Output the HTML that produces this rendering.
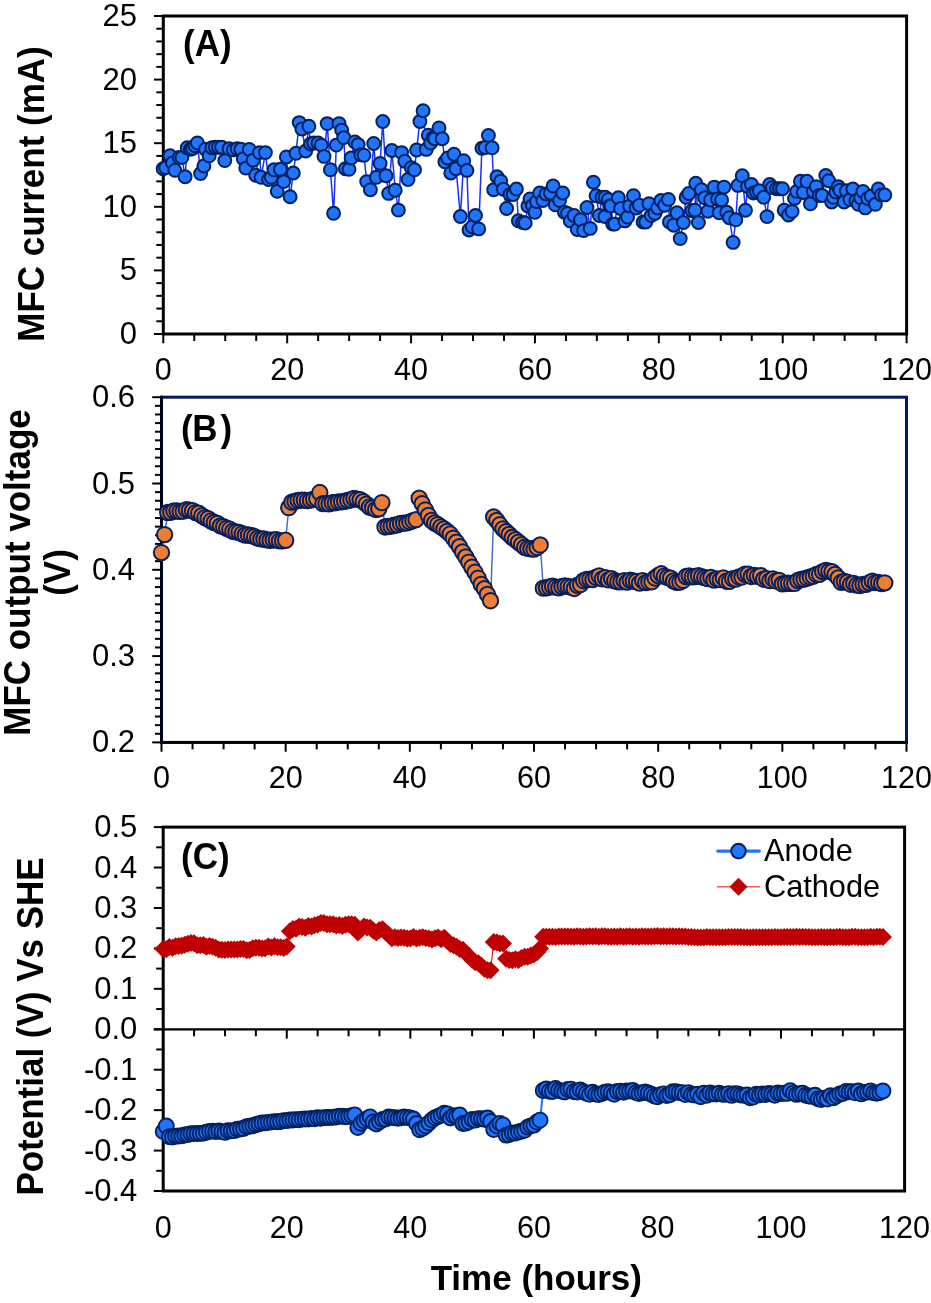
<!DOCTYPE html><html><head><meta charset="utf-8"><style>html,body{margin:0;padding:0;background:#fff;width:931px;height:1303px;overflow:hidden}svg{display:block;will-change:transform}</style></head><body>
<svg width="931" height="1303" viewBox="0 0 931 1303">
<rect width="931" height="1303" fill="#fff"/>
<g stroke="#000" stroke-width="2"><line x1="156.3" y1="321.28" x2="163.3" y2="321.28"/><line x1="156.3" y1="308.56" x2="163.3" y2="308.56"/><line x1="156.3" y1="295.84" x2="163.3" y2="295.84"/><line x1="156.3" y1="283.12" x2="163.3" y2="283.12"/><line x1="156.3" y1="257.68" x2="163.3" y2="257.68"/><line x1="156.3" y1="244.96" x2="163.3" y2="244.96"/><line x1="156.3" y1="232.24" x2="163.3" y2="232.24"/><line x1="156.3" y1="219.52" x2="163.3" y2="219.52"/><line x1="156.3" y1="194.08" x2="163.3" y2="194.08"/><line x1="156.3" y1="181.36" x2="163.3" y2="181.36"/><line x1="156.3" y1="168.64" x2="163.3" y2="168.64"/><line x1="156.3" y1="155.92" x2="163.3" y2="155.92"/><line x1="156.3" y1="130.48" x2="163.3" y2="130.48"/><line x1="156.3" y1="117.76" x2="163.3" y2="117.76"/><line x1="156.3" y1="105.04" x2="163.3" y2="105.04"/><line x1="156.3" y1="92.32" x2="163.3" y2="92.32"/><line x1="156.3" y1="66.88" x2="163.3" y2="66.88"/><line x1="156.3" y1="54.16" x2="163.3" y2="54.16"/><line x1="156.3" y1="41.44" x2="163.3" y2="41.44"/><line x1="156.3" y1="28.72" x2="163.3" y2="28.72"/><line x1="154" y1="334" x2="163.3" y2="334"/><line x1="154" y1="270.4" x2="163.3" y2="270.4"/><line x1="154" y1="206.8" x2="163.3" y2="206.8"/><line x1="154" y1="143.2" x2="163.3" y2="143.2"/><line x1="154" y1="79.6" x2="163.3" y2="79.6"/><line x1="154" y1="16" x2="163.3" y2="16"/></g>
<g font-family="Liberation Sans, sans-serif" font-size="31" text-anchor="end" fill="#000"><text x="137" y="344">0</text><text x="137" y="280.4">5</text><text x="137" y="216.8">10</text><text x="137" y="153.2">15</text><text x="137" y="89.6">20</text><text x="137" y="26">25</text></g>
<g stroke="#000" stroke-width="2"><line x1="163.3" y1="334" x2="163.3" y2="343.3"/><line x1="194.27" y1="334" x2="194.27" y2="341"/><line x1="225.24" y1="334" x2="225.24" y2="341"/><line x1="256.21" y1="334" x2="256.21" y2="341"/><line x1="287.18" y1="334" x2="287.18" y2="343.3"/><line x1="318.15" y1="334" x2="318.15" y2="341"/><line x1="349.12" y1="334" x2="349.12" y2="341"/><line x1="380.1" y1="334" x2="380.1" y2="341"/><line x1="411.07" y1="334" x2="411.07" y2="343.3"/><line x1="442.04" y1="334" x2="442.04" y2="341"/><line x1="473.01" y1="334" x2="473.01" y2="341"/><line x1="503.98" y1="334" x2="503.98" y2="341"/><line x1="534.95" y1="334" x2="534.95" y2="343.3"/><line x1="565.92" y1="334" x2="565.92" y2="341"/><line x1="596.89" y1="334" x2="596.89" y2="341"/><line x1="627.86" y1="334" x2="627.86" y2="341"/><line x1="658.83" y1="334" x2="658.83" y2="343.3"/><line x1="689.8" y1="334" x2="689.8" y2="341"/><line x1="720.78" y1="334" x2="720.78" y2="341"/><line x1="751.75" y1="334" x2="751.75" y2="341"/><line x1="782.72" y1="334" x2="782.72" y2="343.3"/><line x1="813.69" y1="334" x2="813.69" y2="341"/><line x1="844.66" y1="334" x2="844.66" y2="341"/><line x1="875.63" y1="334" x2="875.63" y2="341"/><line x1="906.6" y1="334" x2="906.6" y2="343.3"/></g>
<g font-family="Liberation Sans, sans-serif" font-size="30.6" text-anchor="middle" fill="#000"><text x="163.3" y="380.4">0</text><text x="287.18" y="380.4">20</text><text x="411.07" y="380.4">40</text><text x="534.95" y="380.4">60</text><text x="658.83" y="380.4">80</text><text x="782.72" y="380.4">100</text><text x="906.6" y="380.4">120</text></g>
<rect x="163.3" y="16" width="743.3" height="318" fill="none" stroke="#000" stroke-width="3"/>
<polyline fill="none" stroke="#1530ff" stroke-width="1.5" points="163.1,168.7 165.7,167.6 170,155.8 172.45,163.05 174.9,170.3 179.2,157.4 181.9,157.4 185.1,176.7 187.2,147.7 190.4,149.3 192.5,148.5 194.95,145.7 197.4,142.9 200.6,173.5 203.9,166 205.5,149.3 209.2,155.8 211.9,147.7 215.2,147.2 218.4,147.2 221.6,147.2 224.8,160.6 229.1,148.8 233.4,149.9 237.2,148.8 240.9,149.3 243.35,158.7 245.8,168.1 249.3,149.4 253.1,160.2 255.7,175.2 259.5,152.6 261.1,177.3 265.4,152.6 268.6,179.5 271.3,177.3 274,169.8 277.2,191.3 280.4,169.3 283.7,181.6 286.4,156.9 290.1,196.7 293.3,173 296,153.2 299.2,122.6 301.9,129 305.7,151 308.9,126.3 310.5,144 313.7,143 318,143 321.3,145.1 324,156.4 327.2,123.6 330.4,169.8 333.6,213.3 336.3,145.1 339,123.6 341.7,130.1 343.8,137.6 345.4,168.7 349,169.3 351.1,158 354.9,141.9 358.1,144.6 360.8,154.8 364,155.3 366.7,181.6 370.4,189.7 373.7,143.5 376.4,177.3 380.1,163.4 382.8,121.5 386,175.7 388.7,193.4 391.9,150.5 395.2,190.2 398.4,210.1 401.6,152.6 404.8,161.2 408,179.5 411.3,167.7 414.5,169.8 416.6,150 419.9,121.5 423.1,110.7 426.3,149.4 428.3,135.2 430.6,143 433.3,137.6 434.7,138.7 439,127.9 442.2,138.7 444.9,161.8 447.6,158 450.8,173 454,154.2 456.1,168.7 460.4,216.5 463.7,160.7 466.9,170.4 469,230 472.3,226.7 475.5,215.5 478.7,228.9 481.9,148.3 485.2,147.5 488.4,135.4 492.1,147.8 493.7,189.7 497,176.8 500.7,181.1 503.4,189.2 506.6,208.5 509.9,194.5 513.1,194.5 516.4,189 518.4,220.8 522.7,222.5 525.2,223 527.9,205.9 530,198.9 532.45,205.6 534.9,212.3 536.5,201.6 539.7,193 542.9,200.5 546.1,194 550.4,193 553.1,186 555.3,204.8 559.6,200.5 562.8,193 564.4,212.3 567.6,213.4 570.3,220.9 574.1,215.5 577.3,229.5 580.5,219.8 583.7,230.6 587,207.5 590.2,228.4 593.4,182.2 596.1,195.7 599.3,215.5 602,197.3 605,216.6 605.2,197.3 608.4,199.4 609.8,205.9 611.1,205.9 612.7,224.1 614.7,224.1 618.4,197.8 620.6,208.5 624.9,220.9 627.6,217.1 629.7,205.9 633.5,195.7 636.1,208 639.4,205.3 643.1,222 645.8,222 649,203.7 651.2,215.5 654.9,213.4 657.6,208 660.9,200.5 664.6,205.3 668.4,199.4 669.4,222 673.7,225.2 677,212.8 680.2,238.6 683.4,222.5 686.1,197.3 688.8,193.5 692,210.7 695,210.2 695.8,183.3 698.4,222.5 701.4,189.7 704.7,197.8 707.9,211.2 710.6,200 714.3,187.1 717.6,198.9 719.2,212.8 721.6,199.95 724,187.1 726.7,212.3 729.4,217.7 733.1,242.4 735.8,219.8 738,185.4 742.3,175.8 745.5,210.2 747.6,186.5 751.4,184.4 753.5,193 756.45,191.9 759.4,190.8 763.7,197.3 767,216.6 769.7,184.4 772.3,187.6 776.6,188.7 779.55,188.7 782.5,188.7 784.2,210.2 788.5,215 792.1,211.4 794.5,198.4 796.8,191.4 800.4,181.3 803.3,192.5 806.9,181.3 810.4,203.8 813.4,191.4 816.3,186.6 819.3,195.5 822.2,195.5 825.8,175.4 828.7,180.7 831.7,202 833.4,197.3 835.8,191.95 838.2,186.6 839.9,190.2 844.1,202 846.4,190.8 850,199.6 852.9,189 855.9,200.8 858.3,204.3 860.65,197.85 863,191.4 865.3,207.9 867.7,198.4 871.2,196.1 875.4,204.3 878.3,189 881.3,194.9 884.8,194.9"/>
<g fill="#1f75fe" stroke="#04215f" stroke-width="2"><circle cx="163.1" cy="168.7" r="6.45"/><circle cx="165.7" cy="167.6" r="6.45"/><circle cx="170" cy="155.8" r="6.45"/><circle cx="172.45" cy="163.05" r="6.45"/><circle cx="174.9" cy="170.3" r="6.45"/><circle cx="179.2" cy="157.4" r="6.45"/><circle cx="181.9" cy="157.4" r="6.45"/><circle cx="185.1" cy="176.7" r="6.45"/><circle cx="187.2" cy="147.7" r="6.45"/><circle cx="190.4" cy="149.3" r="6.45"/><circle cx="192.5" cy="148.5" r="6.45"/><circle cx="194.95" cy="145.7" r="6.45"/><circle cx="197.4" cy="142.9" r="6.45"/><circle cx="200.6" cy="173.5" r="6.45"/><circle cx="203.9" cy="166" r="6.45"/><circle cx="205.5" cy="149.3" r="6.45"/><circle cx="209.2" cy="155.8" r="6.45"/><circle cx="211.9" cy="147.7" r="6.45"/><circle cx="215.2" cy="147.2" r="6.45"/><circle cx="218.4" cy="147.2" r="6.45"/><circle cx="221.6" cy="147.2" r="6.45"/><circle cx="224.8" cy="160.6" r="6.45"/><circle cx="229.1" cy="148.8" r="6.45"/><circle cx="233.4" cy="149.9" r="6.45"/><circle cx="237.2" cy="148.8" r="6.45"/><circle cx="240.9" cy="149.3" r="6.45"/><circle cx="243.35" cy="158.7" r="6.45"/><circle cx="245.8" cy="168.1" r="6.45"/><circle cx="249.3" cy="149.4" r="6.45"/><circle cx="253.1" cy="160.2" r="6.45"/><circle cx="255.7" cy="175.2" r="6.45"/><circle cx="259.5" cy="152.6" r="6.45"/><circle cx="261.1" cy="177.3" r="6.45"/><circle cx="265.4" cy="152.6" r="6.45"/><circle cx="268.6" cy="179.5" r="6.45"/><circle cx="271.3" cy="177.3" r="6.45"/><circle cx="274" cy="169.8" r="6.45"/><circle cx="277.2" cy="191.3" r="6.45"/><circle cx="280.4" cy="169.3" r="6.45"/><circle cx="283.7" cy="181.6" r="6.45"/><circle cx="286.4" cy="156.9" r="6.45"/><circle cx="290.1" cy="196.7" r="6.45"/><circle cx="293.3" cy="173" r="6.45"/><circle cx="296" cy="153.2" r="6.45"/><circle cx="299.2" cy="122.6" r="6.45"/><circle cx="301.9" cy="129" r="6.45"/><circle cx="305.7" cy="151" r="6.45"/><circle cx="308.9" cy="126.3" r="6.45"/><circle cx="310.5" cy="144" r="6.45"/><circle cx="313.7" cy="143" r="6.45"/><circle cx="318" cy="143" r="6.45"/><circle cx="321.3" cy="145.1" r="6.45"/><circle cx="324" cy="156.4" r="6.45"/><circle cx="327.2" cy="123.6" r="6.45"/><circle cx="330.4" cy="169.8" r="6.45"/><circle cx="333.6" cy="213.3" r="6.45"/><circle cx="336.3" cy="145.1" r="6.45"/><circle cx="339" cy="123.6" r="6.45"/><circle cx="341.7" cy="130.1" r="6.45"/><circle cx="343.8" cy="137.6" r="6.45"/><circle cx="345.4" cy="168.7" r="6.45"/><circle cx="349" cy="169.3" r="6.45"/><circle cx="351.1" cy="158" r="6.45"/><circle cx="354.9" cy="141.9" r="6.45"/><circle cx="358.1" cy="144.6" r="6.45"/><circle cx="360.8" cy="154.8" r="6.45"/><circle cx="364" cy="155.3" r="6.45"/><circle cx="366.7" cy="181.6" r="6.45"/><circle cx="370.4" cy="189.7" r="6.45"/><circle cx="373.7" cy="143.5" r="6.45"/><circle cx="376.4" cy="177.3" r="6.45"/><circle cx="380.1" cy="163.4" r="6.45"/><circle cx="382.8" cy="121.5" r="6.45"/><circle cx="386" cy="175.7" r="6.45"/><circle cx="388.7" cy="193.4" r="6.45"/><circle cx="391.9" cy="150.5" r="6.45"/><circle cx="395.2" cy="190.2" r="6.45"/><circle cx="398.4" cy="210.1" r="6.45"/><circle cx="401.6" cy="152.6" r="6.45"/><circle cx="404.8" cy="161.2" r="6.45"/><circle cx="408" cy="179.5" r="6.45"/><circle cx="411.3" cy="167.7" r="6.45"/><circle cx="414.5" cy="169.8" r="6.45"/><circle cx="416.6" cy="150" r="6.45"/><circle cx="419.9" cy="121.5" r="6.45"/><circle cx="423.1" cy="110.7" r="6.45"/><circle cx="426.3" cy="149.4" r="6.45"/><circle cx="428.3" cy="135.2" r="6.45"/><circle cx="430.6" cy="143" r="6.45"/><circle cx="433.3" cy="137.6" r="6.45"/><circle cx="434.7" cy="138.7" r="6.45"/><circle cx="439" cy="127.9" r="6.45"/><circle cx="442.2" cy="138.7" r="6.45"/><circle cx="444.9" cy="161.8" r="6.45"/><circle cx="447.6" cy="158" r="6.45"/><circle cx="450.8" cy="173" r="6.45"/><circle cx="454" cy="154.2" r="6.45"/><circle cx="456.1" cy="168.7" r="6.45"/><circle cx="460.4" cy="216.5" r="6.45"/><circle cx="463.7" cy="160.7" r="6.45"/><circle cx="466.9" cy="170.4" r="6.45"/><circle cx="469" cy="230" r="6.45"/><circle cx="472.3" cy="226.7" r="6.45"/><circle cx="475.5" cy="215.5" r="6.45"/><circle cx="478.7" cy="228.9" r="6.45"/><circle cx="481.9" cy="148.3" r="6.45"/><circle cx="485.2" cy="147.5" r="6.45"/><circle cx="488.4" cy="135.4" r="6.45"/><circle cx="492.1" cy="147.8" r="6.45"/><circle cx="493.7" cy="189.7" r="6.45"/><circle cx="497" cy="176.8" r="6.45"/><circle cx="500.7" cy="181.1" r="6.45"/><circle cx="503.4" cy="189.2" r="6.45"/><circle cx="506.6" cy="208.5" r="6.45"/><circle cx="509.9" cy="194.5" r="6.45"/><circle cx="513.1" cy="194.5" r="6.45"/><circle cx="516.4" cy="189" r="6.45"/><circle cx="518.4" cy="220.8" r="6.45"/><circle cx="522.7" cy="222.5" r="6.45"/><circle cx="525.2" cy="223" r="6.45"/><circle cx="527.9" cy="205.9" r="6.45"/><circle cx="530" cy="198.9" r="6.45"/><circle cx="532.45" cy="205.6" r="6.45"/><circle cx="534.9" cy="212.3" r="6.45"/><circle cx="536.5" cy="201.6" r="6.45"/><circle cx="539.7" cy="193" r="6.45"/><circle cx="542.9" cy="200.5" r="6.45"/><circle cx="546.1" cy="194" r="6.45"/><circle cx="550.4" cy="193" r="6.45"/><circle cx="553.1" cy="186" r="6.45"/><circle cx="555.3" cy="204.8" r="6.45"/><circle cx="559.6" cy="200.5" r="6.45"/><circle cx="562.8" cy="193" r="6.45"/><circle cx="564.4" cy="212.3" r="6.45"/><circle cx="567.6" cy="213.4" r="6.45"/><circle cx="570.3" cy="220.9" r="6.45"/><circle cx="574.1" cy="215.5" r="6.45"/><circle cx="577.3" cy="229.5" r="6.45"/><circle cx="580.5" cy="219.8" r="6.45"/><circle cx="583.7" cy="230.6" r="6.45"/><circle cx="587" cy="207.5" r="6.45"/><circle cx="590.2" cy="228.4" r="6.45"/><circle cx="593.4" cy="182.2" r="6.45"/><circle cx="596.1" cy="195.7" r="6.45"/><circle cx="599.3" cy="215.5" r="6.45"/><circle cx="602" cy="197.3" r="6.45"/><circle cx="605" cy="216.6" r="6.45"/><circle cx="605.2" cy="197.3" r="6.45"/><circle cx="608.4" cy="199.4" r="6.45"/><circle cx="609.8" cy="205.9" r="6.45"/><circle cx="611.1" cy="205.9" r="6.45"/><circle cx="612.7" cy="224.1" r="6.45"/><circle cx="614.7" cy="224.1" r="6.45"/><circle cx="618.4" cy="197.8" r="6.45"/><circle cx="620.6" cy="208.5" r="6.45"/><circle cx="624.9" cy="220.9" r="6.45"/><circle cx="627.6" cy="217.1" r="6.45"/><circle cx="629.7" cy="205.9" r="6.45"/><circle cx="633.5" cy="195.7" r="6.45"/><circle cx="636.1" cy="208" r="6.45"/><circle cx="639.4" cy="205.3" r="6.45"/><circle cx="643.1" cy="222" r="6.45"/><circle cx="645.8" cy="222" r="6.45"/><circle cx="649" cy="203.7" r="6.45"/><circle cx="651.2" cy="215.5" r="6.45"/><circle cx="654.9" cy="213.4" r="6.45"/><circle cx="657.6" cy="208" r="6.45"/><circle cx="660.9" cy="200.5" r="6.45"/><circle cx="664.6" cy="205.3" r="6.45"/><circle cx="668.4" cy="199.4" r="6.45"/><circle cx="669.4" cy="222" r="6.45"/><circle cx="673.7" cy="225.2" r="6.45"/><circle cx="677" cy="212.8" r="6.45"/><circle cx="680.2" cy="238.6" r="6.45"/><circle cx="683.4" cy="222.5" r="6.45"/><circle cx="686.1" cy="197.3" r="6.45"/><circle cx="688.8" cy="193.5" r="6.45"/><circle cx="692" cy="210.7" r="6.45"/><circle cx="695" cy="210.2" r="6.45"/><circle cx="695.8" cy="183.3" r="6.45"/><circle cx="698.4" cy="222.5" r="6.45"/><circle cx="701.4" cy="189.7" r="6.45"/><circle cx="704.7" cy="197.8" r="6.45"/><circle cx="707.9" cy="211.2" r="6.45"/><circle cx="710.6" cy="200" r="6.45"/><circle cx="714.3" cy="187.1" r="6.45"/><circle cx="717.6" cy="198.9" r="6.45"/><circle cx="719.2" cy="212.8" r="6.45"/><circle cx="721.6" cy="199.95" r="6.45"/><circle cx="724" cy="187.1" r="6.45"/><circle cx="726.7" cy="212.3" r="6.45"/><circle cx="729.4" cy="217.7" r="6.45"/><circle cx="733.1" cy="242.4" r="6.45"/><circle cx="735.8" cy="219.8" r="6.45"/><circle cx="738" cy="185.4" r="6.45"/><circle cx="742.3" cy="175.8" r="6.45"/><circle cx="745.5" cy="210.2" r="6.45"/><circle cx="747.6" cy="186.5" r="6.45"/><circle cx="751.4" cy="184.4" r="6.45"/><circle cx="753.5" cy="193" r="6.45"/><circle cx="756.45" cy="191.9" r="6.45"/><circle cx="759.4" cy="190.8" r="6.45"/><circle cx="763.7" cy="197.3" r="6.45"/><circle cx="767" cy="216.6" r="6.45"/><circle cx="769.7" cy="184.4" r="6.45"/><circle cx="772.3" cy="187.6" r="6.45"/><circle cx="776.6" cy="188.7" r="6.45"/><circle cx="779.55" cy="188.7" r="6.45"/><circle cx="782.5" cy="188.7" r="6.45"/><circle cx="784.2" cy="210.2" r="6.45"/><circle cx="788.5" cy="215" r="6.45"/><circle cx="792.1" cy="211.4" r="6.45"/><circle cx="794.5" cy="198.4" r="6.45"/><circle cx="796.8" cy="191.4" r="6.45"/><circle cx="800.4" cy="181.3" r="6.45"/><circle cx="803.3" cy="192.5" r="6.45"/><circle cx="806.9" cy="181.3" r="6.45"/><circle cx="810.4" cy="203.8" r="6.45"/><circle cx="813.4" cy="191.4" r="6.45"/><circle cx="816.3" cy="186.6" r="6.45"/><circle cx="819.3" cy="195.5" r="6.45"/><circle cx="822.2" cy="195.5" r="6.45"/><circle cx="825.8" cy="175.4" r="6.45"/><circle cx="828.7" cy="180.7" r="6.45"/><circle cx="831.7" cy="202" r="6.45"/><circle cx="833.4" cy="197.3" r="6.45"/><circle cx="835.8" cy="191.95" r="6.45"/><circle cx="838.2" cy="186.6" r="6.45"/><circle cx="839.9" cy="190.2" r="6.45"/><circle cx="844.1" cy="202" r="6.45"/><circle cx="846.4" cy="190.8" r="6.45"/><circle cx="850" cy="199.6" r="6.45"/><circle cx="852.9" cy="189" r="6.45"/><circle cx="855.9" cy="200.8" r="6.45"/><circle cx="858.3" cy="204.3" r="6.45"/><circle cx="860.65" cy="197.85" r="6.45"/><circle cx="863" cy="191.4" r="6.45"/><circle cx="865.3" cy="207.9" r="6.45"/><circle cx="867.7" cy="198.4" r="6.45"/><circle cx="871.2" cy="196.1" r="6.45"/><circle cx="875.4" cy="204.3" r="6.45"/><circle cx="878.3" cy="189" r="6.45"/><circle cx="881.3" cy="194.9" r="6.45"/><circle cx="884.8" cy="194.9" r="6.45"/></g>
<text transform="translate(183,55.7) scale(1,1.045)" font-family="Liberation Sans, sans-serif" font-size="35" font-weight="bold">(A)</text>
<g stroke="#000" stroke-width="2"><line x1="155" y1="733.77" x2="161.5" y2="733.77"/><line x1="155" y1="725.14" x2="161.5" y2="725.14"/><line x1="155" y1="716.51" x2="161.5" y2="716.51"/><line x1="155" y1="707.88" x2="161.5" y2="707.88"/><line x1="155" y1="699.25" x2="161.5" y2="699.25"/><line x1="155" y1="690.62" x2="161.5" y2="690.62"/><line x1="155" y1="681.99" x2="161.5" y2="681.99"/><line x1="155" y1="673.36" x2="161.5" y2="673.36"/><line x1="155" y1="664.73" x2="161.5" y2="664.73"/><line x1="155" y1="647.47" x2="161.5" y2="647.47"/><line x1="155" y1="638.84" x2="161.5" y2="638.84"/><line x1="155" y1="630.21" x2="161.5" y2="630.21"/><line x1="155" y1="621.58" x2="161.5" y2="621.58"/><line x1="155" y1="612.95" x2="161.5" y2="612.95"/><line x1="155" y1="604.32" x2="161.5" y2="604.32"/><line x1="155" y1="595.69" x2="161.5" y2="595.69"/><line x1="155" y1="587.06" x2="161.5" y2="587.06"/><line x1="155" y1="578.43" x2="161.5" y2="578.43"/><line x1="155" y1="561.17" x2="161.5" y2="561.17"/><line x1="155" y1="552.54" x2="161.5" y2="552.54"/><line x1="155" y1="543.91" x2="161.5" y2="543.91"/><line x1="155" y1="535.28" x2="161.5" y2="535.28"/><line x1="155" y1="526.65" x2="161.5" y2="526.65"/><line x1="155" y1="518.02" x2="161.5" y2="518.02"/><line x1="155" y1="509.39" x2="161.5" y2="509.39"/><line x1="155" y1="500.76" x2="161.5" y2="500.76"/><line x1="155" y1="492.13" x2="161.5" y2="492.13"/><line x1="155" y1="474.87" x2="161.5" y2="474.87"/><line x1="155" y1="466.24" x2="161.5" y2="466.24"/><line x1="155" y1="457.61" x2="161.5" y2="457.61"/><line x1="155" y1="448.98" x2="161.5" y2="448.98"/><line x1="155" y1="440.35" x2="161.5" y2="440.35"/><line x1="155" y1="431.72" x2="161.5" y2="431.72"/><line x1="155" y1="423.09" x2="161.5" y2="423.09"/><line x1="155" y1="414.46" x2="161.5" y2="414.46"/><line x1="155" y1="405.83" x2="161.5" y2="405.83"/><line x1="152.2" y1="742.4" x2="161.5" y2="742.4"/><line x1="152.2" y1="656.1" x2="161.5" y2="656.1"/><line x1="152.2" y1="569.8" x2="161.5" y2="569.8"/><line x1="152.2" y1="483.5" x2="161.5" y2="483.5"/><line x1="152.2" y1="397.2" x2="161.5" y2="397.2"/></g>
<g font-family="Liberation Sans, sans-serif" font-size="31" text-anchor="end" fill="#000"><text x="135" y="752.4">0.2</text><text x="135" y="666.1">0.3</text><text x="135" y="579.8">0.4</text><text x="135" y="493.5">0.5</text><text x="135" y="407.2">0.6</text></g>
<g stroke="#000" stroke-width="2"><line x1="161.5" y1="742.4" x2="161.5" y2="751.7"/><line x1="192.54" y1="742.4" x2="192.54" y2="749.4"/><line x1="223.58" y1="742.4" x2="223.58" y2="749.4"/><line x1="254.62" y1="742.4" x2="254.62" y2="749.4"/><line x1="285.67" y1="742.4" x2="285.67" y2="751.7"/><line x1="316.71" y1="742.4" x2="316.71" y2="749.4"/><line x1="347.75" y1="742.4" x2="347.75" y2="749.4"/><line x1="378.79" y1="742.4" x2="378.79" y2="749.4"/><line x1="409.83" y1="742.4" x2="409.83" y2="751.7"/><line x1="440.88" y1="742.4" x2="440.88" y2="749.4"/><line x1="471.92" y1="742.4" x2="471.92" y2="749.4"/><line x1="502.96" y1="742.4" x2="502.96" y2="749.4"/><line x1="534" y1="742.4" x2="534" y2="751.7"/><line x1="565.04" y1="742.4" x2="565.04" y2="749.4"/><line x1="596.08" y1="742.4" x2="596.08" y2="749.4"/><line x1="627.12" y1="742.4" x2="627.12" y2="749.4"/><line x1="658.17" y1="742.4" x2="658.17" y2="751.7"/><line x1="689.21" y1="742.4" x2="689.21" y2="749.4"/><line x1="720.25" y1="742.4" x2="720.25" y2="749.4"/><line x1="751.29" y1="742.4" x2="751.29" y2="749.4"/><line x1="782.33" y1="742.4" x2="782.33" y2="751.7"/><line x1="813.38" y1="742.4" x2="813.38" y2="749.4"/><line x1="844.42" y1="742.4" x2="844.42" y2="749.4"/><line x1="875.46" y1="742.4" x2="875.46" y2="749.4"/><line x1="906.5" y1="742.4" x2="906.5" y2="751.7"/></g>
<g font-family="Liberation Sans, sans-serif" font-size="30.6" text-anchor="middle" fill="#000"><text x="161.5" y="788.3">0</text><text x="285.67" y="788.3">20</text><text x="409.83" y="788.3">40</text><text x="534" y="788.3">60</text><text x="658.17" y="788.3">80</text><text x="782.33" y="788.3">100</text><text x="906.5" y="788.3">120</text></g>
<rect x="161.5" y="397.2" width="745" height="345.2" fill="none" stroke="#011a5e" stroke-width="3"/>
<line x1="161.5" y1="395.7" x2="161.5" y2="742.4" stroke="#000" stroke-width="2.4"/>
<line x1="160.5" y1="742.4" x2="908" y2="742.4" stroke="#000" stroke-width="2.6"/>
<polyline fill="none" stroke="#4472c4" stroke-width="1.5" points="161.5,552.6 164.6,534.6 167.71,512.48 170.81,512.2 173.92,510.96 177.02,511.05 180.12,511.39 183.23,511.16 186.33,509.69 189.44,510.16 192.54,510.62 195.65,512.58 198.75,513.32 201.85,515.63 204.96,517.68 208.06,518.76 211.17,521.02 214.27,522.52 217.38,523.33 220.48,525.87 223.58,526.69 226.69,528.25 229.79,529.32 232.9,531.25 236,531.88 239.1,532.33 242.21,533.81 245.31,535 248.42,535.04 251.52,535.67 254.62,536.7 257.73,538.22 260.83,538.92 263.94,539 267.04,539.91 270.15,540.26 273.25,539.87 276.35,539.73 279.46,540.85 282.56,540.85 285.67,540.28 288.77,507.66 291.88,502.14 294.98,501.43 298.08,500.44 301.19,500.15 304.29,500.09 307.4,500.58 310.5,500.14 313.6,499.31 316.71,498.63 319.81,492.57 322.92,503.62 326.02,503.6 329.12,503.77 332.23,502.7 335.33,502.72 338.44,501.91 341.54,501.83 344.65,501.24 347.75,500.5 350.85,499.77 353.96,498.5 357.06,499.12 360.17,499.76 363.27,501.71 366.38,504.1 369.48,507 372.58,507.89 375.69,509.47 378.79,508.76 381.9,502.58 385,526.93 388.1,526.48 391.21,526.17 394.31,525.27 397.42,524.76 400.52,523.47 403.62,523.11 406.73,522.9 409.83,521.88 412.94,520.71 416.04,519.66 419.15,498.15 422.25,503.71 425.35,509.85 428.46,515.52 431.56,520.5 434.67,523.01 437.77,524.6 440.88,526.95 443.98,528.91 447.08,531.47 450.19,534.07 453.29,538.09 456.4,542.15 459.5,546.74 462.6,552 465.71,556.94 468.81,562.1 471.92,567.31 475.02,572.29 478.12,578.11 481.23,584.47 484.33,588.66 487.44,594.43 490.54,600.72 493.65,517.01 496.75,520.5 499.85,524.81 502.96,528.85 506.06,531.71 509.17,534.45 512.27,537.38 515.38,539.71 518.48,542.25 521.58,544.69 524.69,547.29 527.79,548.39 530.9,548.81 534,549.08 537.1,547.46 540.21,544.95 543.31,588.14 546.42,587.8 549.52,587.04 552.62,586.14 555.73,587.09 558.83,587.81 561.94,586.53 565.04,585.92 568.15,586.44 571.25,587.08 574.35,588.44 577.46,585.3 580.56,584.45 583.67,580.68 586.77,579.46 589.88,579.32 592.98,579.47 596.08,577.27 599.19,575.96 602.29,578.83 605.4,577.73 608.5,579.9 611.6,578.66 614.71,580.8 617.81,581.7 620.92,581.74 624.02,580.71 627.12,582.04 630.23,580.31 633.33,581.02 636.44,581.51 639.54,583.13 642.65,580.68 645.75,582.58 648.85,581.89 651.96,581.72 655.06,577.93 658.17,575.55 661.27,573.81 664.38,576.25 667.48,577.45 670.58,578.15 673.69,581.02 676.79,582.23 679.9,582.12 683,580.39 686.1,576.55 689.21,575.85 692.31,576.73 695.42,576.51 698.52,575.79 701.62,576.68 704.73,577.71 707.83,578.48 710.94,577.48 714.04,580.02 717.15,578.93 720.25,579.58 723.35,577.91 726.46,581.21 729.56,581.28 732.67,578.58 735.77,579.12 738.88,576.92 741.98,576.97 745.08,574.27 748.19,574.15 751.29,576.43 754.4,575.34 757.5,576.32 760.6,575.61 763.71,579.19 766.81,578.61 769.92,580.6 773.02,578.92 776.12,580.95 779.23,580.35 782.33,583.87 785.44,583.44 788.54,583.2 791.65,583.33 794.75,583.41 797.85,580.53 800.96,579.48 804.06,579.04 807.17,577.99 810.27,577.02 813.38,576.16 816.48,574.45 819.58,574.33 822.69,571.59 825.79,570.37 828.9,571.23 832,571.66 835.1,574.38 838.21,577.95 841.31,582.32 844.42,581.55 847.52,582.22 850.62,584.18 853.73,583.42 856.83,585.07 859.94,585.44 863.04,584.54 866.15,584.33 869.25,582.78 872.35,581.16 875.46,582.56 878.56,582.48 881.67,583.49 884.77,582.83"/>
<g fill="#ed7d31" stroke="#06205f" stroke-width="2"><circle cx="161.5" cy="552.6" r="7.7"/><circle cx="164.6" cy="534.6" r="7.7"/><circle cx="167.71" cy="512.48" r="7.7"/><circle cx="170.81" cy="512.2" r="7.7"/><circle cx="173.92" cy="510.96" r="7.7"/><circle cx="177.02" cy="511.05" r="7.7"/><circle cx="180.12" cy="511.39" r="7.7"/><circle cx="183.23" cy="511.16" r="7.7"/><circle cx="186.33" cy="509.69" r="7.7"/><circle cx="189.44" cy="510.16" r="7.7"/><circle cx="192.54" cy="510.62" r="7.7"/><circle cx="195.65" cy="512.58" r="7.7"/><circle cx="198.75" cy="513.32" r="7.7"/><circle cx="201.85" cy="515.63" r="7.7"/><circle cx="204.96" cy="517.68" r="7.7"/><circle cx="208.06" cy="518.76" r="7.7"/><circle cx="211.17" cy="521.02" r="7.7"/><circle cx="214.27" cy="522.52" r="7.7"/><circle cx="217.38" cy="523.33" r="7.7"/><circle cx="220.48" cy="525.87" r="7.7"/><circle cx="223.58" cy="526.69" r="7.7"/><circle cx="226.69" cy="528.25" r="7.7"/><circle cx="229.79" cy="529.32" r="7.7"/><circle cx="232.9" cy="531.25" r="7.7"/><circle cx="236" cy="531.88" r="7.7"/><circle cx="239.1" cy="532.33" r="7.7"/><circle cx="242.21" cy="533.81" r="7.7"/><circle cx="245.31" cy="535" r="7.7"/><circle cx="248.42" cy="535.04" r="7.7"/><circle cx="251.52" cy="535.67" r="7.7"/><circle cx="254.62" cy="536.7" r="7.7"/><circle cx="257.73" cy="538.22" r="7.7"/><circle cx="260.83" cy="538.92" r="7.7"/><circle cx="263.94" cy="539" r="7.7"/><circle cx="267.04" cy="539.91" r="7.7"/><circle cx="270.15" cy="540.26" r="7.7"/><circle cx="273.25" cy="539.87" r="7.7"/><circle cx="276.35" cy="539.73" r="7.7"/><circle cx="279.46" cy="540.85" r="7.7"/><circle cx="282.56" cy="540.85" r="7.7"/><circle cx="285.67" cy="540.28" r="7.7"/><circle cx="288.77" cy="507.66" r="7.7"/><circle cx="291.88" cy="502.14" r="7.7"/><circle cx="294.98" cy="501.43" r="7.7"/><circle cx="298.08" cy="500.44" r="7.7"/><circle cx="301.19" cy="500.15" r="7.7"/><circle cx="304.29" cy="500.09" r="7.7"/><circle cx="307.4" cy="500.58" r="7.7"/><circle cx="310.5" cy="500.14" r="7.7"/><circle cx="313.6" cy="499.31" r="7.7"/><circle cx="316.71" cy="498.63" r="7.7"/><circle cx="319.81" cy="492.57" r="7.7"/><circle cx="322.92" cy="503.62" r="7.7"/><circle cx="326.02" cy="503.6" r="7.7"/><circle cx="329.12" cy="503.77" r="7.7"/><circle cx="332.23" cy="502.7" r="7.7"/><circle cx="335.33" cy="502.72" r="7.7"/><circle cx="338.44" cy="501.91" r="7.7"/><circle cx="341.54" cy="501.83" r="7.7"/><circle cx="344.65" cy="501.24" r="7.7"/><circle cx="347.75" cy="500.5" r="7.7"/><circle cx="350.85" cy="499.77" r="7.7"/><circle cx="353.96" cy="498.5" r="7.7"/><circle cx="357.06" cy="499.12" r="7.7"/><circle cx="360.17" cy="499.76" r="7.7"/><circle cx="363.27" cy="501.71" r="7.7"/><circle cx="366.38" cy="504.1" r="7.7"/><circle cx="369.48" cy="507" r="7.7"/><circle cx="372.58" cy="507.89" r="7.7"/><circle cx="375.69" cy="509.47" r="7.7"/><circle cx="378.79" cy="508.76" r="7.7"/><circle cx="381.9" cy="502.58" r="7.7"/><circle cx="385" cy="526.93" r="7.7"/><circle cx="388.1" cy="526.48" r="7.7"/><circle cx="391.21" cy="526.17" r="7.7"/><circle cx="394.31" cy="525.27" r="7.7"/><circle cx="397.42" cy="524.76" r="7.7"/><circle cx="400.52" cy="523.47" r="7.7"/><circle cx="403.62" cy="523.11" r="7.7"/><circle cx="406.73" cy="522.9" r="7.7"/><circle cx="409.83" cy="521.88" r="7.7"/><circle cx="412.94" cy="520.71" r="7.7"/><circle cx="416.04" cy="519.66" r="7.7"/><circle cx="419.15" cy="498.15" r="7.7"/><circle cx="422.25" cy="503.71" r="7.7"/><circle cx="425.35" cy="509.85" r="7.7"/><circle cx="428.46" cy="515.52" r="7.7"/><circle cx="431.56" cy="520.5" r="7.7"/><circle cx="434.67" cy="523.01" r="7.7"/><circle cx="437.77" cy="524.6" r="7.7"/><circle cx="440.88" cy="526.95" r="7.7"/><circle cx="443.98" cy="528.91" r="7.7"/><circle cx="447.08" cy="531.47" r="7.7"/><circle cx="450.19" cy="534.07" r="7.7"/><circle cx="453.29" cy="538.09" r="7.7"/><circle cx="456.4" cy="542.15" r="7.7"/><circle cx="459.5" cy="546.74" r="7.7"/><circle cx="462.6" cy="552" r="7.7"/><circle cx="465.71" cy="556.94" r="7.7"/><circle cx="468.81" cy="562.1" r="7.7"/><circle cx="471.92" cy="567.31" r="7.7"/><circle cx="475.02" cy="572.29" r="7.7"/><circle cx="478.12" cy="578.11" r="7.7"/><circle cx="481.23" cy="584.47" r="7.7"/><circle cx="484.33" cy="588.66" r="7.7"/><circle cx="487.44" cy="594.43" r="7.7"/><circle cx="490.54" cy="600.72" r="7.7"/><circle cx="493.65" cy="517.01" r="7.7"/><circle cx="496.75" cy="520.5" r="7.7"/><circle cx="499.85" cy="524.81" r="7.7"/><circle cx="502.96" cy="528.85" r="7.7"/><circle cx="506.06" cy="531.71" r="7.7"/><circle cx="509.17" cy="534.45" r="7.7"/><circle cx="512.27" cy="537.38" r="7.7"/><circle cx="515.38" cy="539.71" r="7.7"/><circle cx="518.48" cy="542.25" r="7.7"/><circle cx="521.58" cy="544.69" r="7.7"/><circle cx="524.69" cy="547.29" r="7.7"/><circle cx="527.79" cy="548.39" r="7.7"/><circle cx="530.9" cy="548.81" r="7.7"/><circle cx="534" cy="549.08" r="7.7"/><circle cx="537.1" cy="547.46" r="7.7"/><circle cx="540.21" cy="544.95" r="7.7"/><circle cx="543.31" cy="588.14" r="7.7"/><circle cx="546.42" cy="587.8" r="7.7"/><circle cx="549.52" cy="587.04" r="7.7"/><circle cx="552.62" cy="586.14" r="7.7"/><circle cx="555.73" cy="587.09" r="7.7"/><circle cx="558.83" cy="587.81" r="7.7"/><circle cx="561.94" cy="586.53" r="7.7"/><circle cx="565.04" cy="585.92" r="7.7"/><circle cx="568.15" cy="586.44" r="7.7"/><circle cx="571.25" cy="587.08" r="7.7"/><circle cx="574.35" cy="588.44" r="7.7"/><circle cx="577.46" cy="585.3" r="7.7"/><circle cx="580.56" cy="584.45" r="7.7"/><circle cx="583.67" cy="580.68" r="7.7"/><circle cx="586.77" cy="579.46" r="7.7"/><circle cx="589.88" cy="579.32" r="7.7"/><circle cx="592.98" cy="579.47" r="7.7"/><circle cx="596.08" cy="577.27" r="7.7"/><circle cx="599.19" cy="575.96" r="7.7"/><circle cx="602.29" cy="578.83" r="7.7"/><circle cx="605.4" cy="577.73" r="7.7"/><circle cx="608.5" cy="579.9" r="7.7"/><circle cx="611.6" cy="578.66" r="7.7"/><circle cx="614.71" cy="580.8" r="7.7"/><circle cx="617.81" cy="581.7" r="7.7"/><circle cx="620.92" cy="581.74" r="7.7"/><circle cx="624.02" cy="580.71" r="7.7"/><circle cx="627.12" cy="582.04" r="7.7"/><circle cx="630.23" cy="580.31" r="7.7"/><circle cx="633.33" cy="581.02" r="7.7"/><circle cx="636.44" cy="581.51" r="7.7"/><circle cx="639.54" cy="583.13" r="7.7"/><circle cx="642.65" cy="580.68" r="7.7"/><circle cx="645.75" cy="582.58" r="7.7"/><circle cx="648.85" cy="581.89" r="7.7"/><circle cx="651.96" cy="581.72" r="7.7"/><circle cx="655.06" cy="577.93" r="7.7"/><circle cx="658.17" cy="575.55" r="7.7"/><circle cx="661.27" cy="573.81" r="7.7"/><circle cx="664.38" cy="576.25" r="7.7"/><circle cx="667.48" cy="577.45" r="7.7"/><circle cx="670.58" cy="578.15" r="7.7"/><circle cx="673.69" cy="581.02" r="7.7"/><circle cx="676.79" cy="582.23" r="7.7"/><circle cx="679.9" cy="582.12" r="7.7"/><circle cx="683" cy="580.39" r="7.7"/><circle cx="686.1" cy="576.55" r="7.7"/><circle cx="689.21" cy="575.85" r="7.7"/><circle cx="692.31" cy="576.73" r="7.7"/><circle cx="695.42" cy="576.51" r="7.7"/><circle cx="698.52" cy="575.79" r="7.7"/><circle cx="701.62" cy="576.68" r="7.7"/><circle cx="704.73" cy="577.71" r="7.7"/><circle cx="707.83" cy="578.48" r="7.7"/><circle cx="710.94" cy="577.48" r="7.7"/><circle cx="714.04" cy="580.02" r="7.7"/><circle cx="717.15" cy="578.93" r="7.7"/><circle cx="720.25" cy="579.58" r="7.7"/><circle cx="723.35" cy="577.91" r="7.7"/><circle cx="726.46" cy="581.21" r="7.7"/><circle cx="729.56" cy="581.28" r="7.7"/><circle cx="732.67" cy="578.58" r="7.7"/><circle cx="735.77" cy="579.12" r="7.7"/><circle cx="738.88" cy="576.92" r="7.7"/><circle cx="741.98" cy="576.97" r="7.7"/><circle cx="745.08" cy="574.27" r="7.7"/><circle cx="748.19" cy="574.15" r="7.7"/><circle cx="751.29" cy="576.43" r="7.7"/><circle cx="754.4" cy="575.34" r="7.7"/><circle cx="757.5" cy="576.32" r="7.7"/><circle cx="760.6" cy="575.61" r="7.7"/><circle cx="763.71" cy="579.19" r="7.7"/><circle cx="766.81" cy="578.61" r="7.7"/><circle cx="769.92" cy="580.6" r="7.7"/><circle cx="773.02" cy="578.92" r="7.7"/><circle cx="776.12" cy="580.95" r="7.7"/><circle cx="779.23" cy="580.35" r="7.7"/><circle cx="782.33" cy="583.87" r="7.7"/><circle cx="785.44" cy="583.44" r="7.7"/><circle cx="788.54" cy="583.2" r="7.7"/><circle cx="791.65" cy="583.33" r="7.7"/><circle cx="794.75" cy="583.41" r="7.7"/><circle cx="797.85" cy="580.53" r="7.7"/><circle cx="800.96" cy="579.48" r="7.7"/><circle cx="804.06" cy="579.04" r="7.7"/><circle cx="807.17" cy="577.99" r="7.7"/><circle cx="810.27" cy="577.02" r="7.7"/><circle cx="813.38" cy="576.16" r="7.7"/><circle cx="816.48" cy="574.45" r="7.7"/><circle cx="819.58" cy="574.33" r="7.7"/><circle cx="822.69" cy="571.59" r="7.7"/><circle cx="825.79" cy="570.37" r="7.7"/><circle cx="828.9" cy="571.23" r="7.7"/><circle cx="832" cy="571.66" r="7.7"/><circle cx="835.1" cy="574.38" r="7.7"/><circle cx="838.21" cy="577.95" r="7.7"/><circle cx="841.31" cy="582.32" r="7.7"/><circle cx="844.42" cy="581.55" r="7.7"/><circle cx="847.52" cy="582.22" r="7.7"/><circle cx="850.62" cy="584.18" r="7.7"/><circle cx="853.73" cy="583.42" r="7.7"/><circle cx="856.83" cy="585.07" r="7.7"/><circle cx="859.94" cy="585.44" r="7.7"/><circle cx="863.04" cy="584.54" r="7.7"/><circle cx="866.15" cy="584.33" r="7.7"/><circle cx="869.25" cy="582.78" r="7.7"/><circle cx="872.35" cy="581.16" r="7.7"/><circle cx="875.46" cy="582.56" r="7.7"/><circle cx="878.56" cy="582.48" r="7.7"/><circle cx="881.67" cy="583.49" r="7.7"/><circle cx="884.77" cy="582.83" r="7.7"/></g>
<text transform="translate(181,440.7) scale(1,1.045)" font-family="Liberation Sans, sans-serif" font-size="35" font-weight="bold">(<tspan dx="-0.4">B</tspan><tspan dx="3">)</tspan></text>
<g stroke="#000" stroke-width="2"><line x1="156.2" y1="1170.78" x2="163.2" y2="1170.78"/><line x1="156.2" y1="1130.35" x2="163.2" y2="1130.35"/><line x1="156.2" y1="1089.92" x2="163.2" y2="1089.92"/><line x1="156.2" y1="1049.48" x2="163.2" y2="1049.48"/><line x1="156.2" y1="1009.05" x2="163.2" y2="1009.05"/><line x1="156.2" y1="968.62" x2="163.2" y2="968.62"/><line x1="156.2" y1="928.18" x2="163.2" y2="928.18"/><line x1="156.2" y1="887.75" x2="163.2" y2="887.75"/><line x1="156.2" y1="847.32" x2="163.2" y2="847.32"/><line x1="153.8" y1="1191" x2="163.2" y2="1191"/><line x1="153.8" y1="1150.57" x2="163.2" y2="1150.57"/><line x1="153.8" y1="1110.13" x2="163.2" y2="1110.13"/><line x1="153.8" y1="1069.7" x2="163.2" y2="1069.7"/><line x1="153.8" y1="1029.27" x2="163.2" y2="1029.27"/><line x1="153.8" y1="988.83" x2="163.2" y2="988.83"/><line x1="153.8" y1="948.4" x2="163.2" y2="948.4"/><line x1="153.8" y1="907.97" x2="163.2" y2="907.97"/><line x1="153.8" y1="867.53" x2="163.2" y2="867.53"/><line x1="153.8" y1="827.1" x2="163.2" y2="827.1"/></g>
<g font-family="Liberation Sans, sans-serif" font-size="31" text-anchor="end" fill="#000"><text x="137.3" y="1201">-0.4</text><text x="137.3" y="1160.57">-0.3</text><text x="137.3" y="1120.13">-0.2</text><text x="137.3" y="1079.7">-0.1</text><text x="137.3" y="1039.27">0.0</text><text x="137.3" y="998.83">0.1</text><text x="137.3" y="958.4">0.2</text><text x="137.3" y="917.97">0.3</text><text x="137.3" y="877.53">0.4</text><text x="137.3" y="837.1">0.5</text></g>
<rect x="163.2" y="827.1" width="741.4" height="363.9" fill="none" stroke="#000" stroke-width="3"/>
<line x1="153.8" y1="1029.3" x2="904.6" y2="1029.3" stroke="#000" stroke-width="2.2"/>
<g stroke="#000" stroke-width="2"><line x1="194.09" y1="1029.3" x2="194.09" y2="1036.3"/><line x1="224.98" y1="1029.3" x2="224.98" y2="1036.3"/><line x1="255.88" y1="1029.3" x2="255.88" y2="1036.3"/><line x1="286.77" y1="1029.3" x2="286.77" y2="1038.6"/><line x1="317.66" y1="1029.3" x2="317.66" y2="1036.3"/><line x1="348.55" y1="1029.3" x2="348.55" y2="1036.3"/><line x1="379.44" y1="1029.3" x2="379.44" y2="1036.3"/><line x1="410.33" y1="1029.3" x2="410.33" y2="1038.6"/><line x1="441.23" y1="1029.3" x2="441.23" y2="1036.3"/><line x1="472.12" y1="1029.3" x2="472.12" y2="1036.3"/><line x1="503.01" y1="1029.3" x2="503.01" y2="1036.3"/><line x1="533.9" y1="1029.3" x2="533.9" y2="1038.6"/><line x1="564.79" y1="1029.3" x2="564.79" y2="1036.3"/><line x1="595.68" y1="1029.3" x2="595.68" y2="1036.3"/><line x1="626.58" y1="1029.3" x2="626.58" y2="1036.3"/><line x1="657.47" y1="1029.3" x2="657.47" y2="1038.6"/><line x1="688.36" y1="1029.3" x2="688.36" y2="1036.3"/><line x1="719.25" y1="1029.3" x2="719.25" y2="1036.3"/><line x1="750.14" y1="1029.3" x2="750.14" y2="1036.3"/><line x1="781.03" y1="1029.3" x2="781.03" y2="1038.6"/><line x1="811.93" y1="1029.3" x2="811.93" y2="1036.3"/><line x1="842.82" y1="1029.3" x2="842.82" y2="1036.3"/><line x1="873.71" y1="1029.3" x2="873.71" y2="1036.3"/></g>
<g font-family="Liberation Sans, sans-serif" font-size="30.6" text-anchor="middle" fill="#000"><text x="163.2" y="1237.6">0</text><text x="286.77" y="1237.6">20</text><text x="410.33" y="1237.6">40</text><text x="533.9" y="1237.6">60</text><text x="657.47" y="1237.6">80</text><text x="781.03" y="1237.6">100</text><text x="904.6" y="1237.6">120</text></g>
<polyline fill="none" stroke="#c00000" stroke-width="1" points="163.2,949.04 166.29,949.35 169.38,947.04 172.47,947.77 175.56,946.37 178.65,946.07 181.73,945.81 184.82,944.71 187.91,943.66 191,942.92 194.09,943.31 197.18,945.23 200.27,945.24 203.36,945.05 206.45,946.79 209.54,945.89 212.63,946.85 215.72,947.74 218.81,949.54 221.89,949.76 224.98,949.93 228.07,949.39 231.16,949.55 234.25,949.46 237.34,949.54 240.43,949.12 243.52,949 246.61,950.35 249.7,950.1 252.79,948.3 255.88,947.67 258.96,947.73 262.05,948.41 265.14,948.33 268.23,946.57 271.32,947.44 274.41,946.16 277.5,947.13 280.59,947.32 283.68,947.95 286.77,946.42 289.86,931.2 292.94,929.04 296.03,928.75 299.12,926.51 302.21,927.05 305.3,927.64 308.39,926.02 311.48,926.4 314.57,925.13 317.66,924.45 320.75,922.99 323.84,923.1 326.93,924.25 330.01,924.33 333.1,924.37 336.19,925.56 339.28,925.03 342.37,925.9 345.46,924.71 348.55,924.16 351.64,924.15 354.73,924.78 357.82,932.43 360.91,929.51 364,926.39 367.09,927.56 370.17,927.69 373.26,930.5 376.35,932.48 379.44,929.97 382.53,929.23 385.62,932.21 388.71,934.8 391.8,938.19 394.89,937.3 397.98,937.88 401.07,937.59 404.15,937.77 407.24,938.48 410.33,938.49 413.42,936.91 416.51,938.53 419.6,937.68 422.69,937.35 425.78,938.06 428.87,938.47 431.96,939.52 435.05,938.34 438.14,937.62 441.23,939.32 444.31,937.83 447.4,940.89 450.49,943.96 453.58,945.32 456.67,946.73 459.76,948.98 462.85,949.79 465.94,953.57 469.03,955.92 472.12,959.82 475.21,962.2 478.3,963.25 481.38,965.82 484.47,968.64 487.56,970.18 490.65,970.15 493.74,942 496.83,942.49 499.92,943.47 503.01,943.5 506.1,958.72 509.19,959.98 512.28,960.19 515.37,959.24 518.45,959.92 521.54,958.02 524.63,956.77 527.72,956.75 530.81,955.51 533.9,954.47 536.99,952.15 540.08,948.51 543.17,936.86 546.26,936.82 549.35,936.81 552.43,936.84 555.52,936.95 558.61,936.58 561.7,936.4 564.79,936.49 567.88,936.47 570.97,936.54 574.06,936.8 577.15,936.34 580.24,936.57 583.33,936.78 586.42,936.44 589.5,936.31 592.59,936.41 595.68,936.31 598.77,936.73 601.86,936.34 604.95,936.35 608.04,936.71 611.13,936.7 614.22,936.56 617.31,936.74 620.4,936.22 623.49,936.76 626.58,936.51 629.66,936.34 632.75,936.65 635.84,936.54 638.93,936.72 642.02,936.19 645.11,936.46 648.2,936.39 651.29,936.49 654.38,936.23 657.47,936.1 660.56,936.4 663.64,936.28 666.73,936.59 669.82,936.32 672.91,936.29 676,936.41 679.09,936.34 682.18,936.59 685.27,936.48 688.36,936.89 691.45,937.12 694.54,937.36 697.63,937.44 700.71,937.44 703.8,937.57 706.89,937.1 709.98,937.22 713.07,937.22 716.16,937.15 719.25,937.17 722.34,937.24 725.43,937.27 728.52,937.1 731.61,937.02 734.7,937.11 737.79,937.01 740.87,937.11 743.96,937.32 747.05,937.27 750.14,937.5 753.23,937.24 756.32,937.23 759.41,937.28 762.5,937.32 765.59,937.25 768.68,937.23 771.77,937.24 774.86,937.08 777.94,937.33 781.03,937.22 784.12,937.04 787.21,937 790.3,936.89 793.39,937.05 796.48,936.84 799.57,936.93 802.66,936.86 805.75,936.99 808.84,937.02 811.92,937.17 815.01,937.27 818.1,937.18 821.19,936.89 824.28,937.33 827.37,937.23 830.46,937.08 833.55,937.16 836.64,937.08 839.73,936.87 842.82,937.15 845.91,937.35 849,937.22 852.08,936.86 855.17,936.82 858.26,937.3 861.35,937.28 864.44,937.18 867.53,937.18 870.62,936.81 873.71,937.2 876.8,936.83 879.89,936.8 882.98,936.94"/>
<g fill="#c00000"><path d="M154.2 949.04L163.2 940.04L172.2 949.04L163.2 958.04Z"/><path d="M157.29 949.35L166.29 940.35L175.29 949.35L166.29 958.35Z"/><path d="M160.38 947.04L169.38 938.04L178.38 947.04L169.38 956.04Z"/><path d="M163.47 947.77L172.47 938.77L181.47 947.77L172.47 956.77Z"/><path d="M166.56 946.37L175.56 937.37L184.56 946.37L175.56 955.37Z"/><path d="M169.65 946.07L178.65 937.07L187.65 946.07L178.65 955.07Z"/><path d="M172.73 945.81L181.73 936.81L190.73 945.81L181.73 954.81Z"/><path d="M175.82 944.71L184.82 935.71L193.82 944.71L184.82 953.71Z"/><path d="M178.91 943.66L187.91 934.66L196.91 943.66L187.91 952.66Z"/><path d="M182 942.92L191 933.92L200 942.92L191 951.92Z"/><path d="M185.09 943.31L194.09 934.31L203.09 943.31L194.09 952.31Z"/><path d="M188.18 945.23L197.18 936.23L206.18 945.23L197.18 954.23Z"/><path d="M191.27 945.24L200.27 936.24L209.27 945.24L200.27 954.24Z"/><path d="M194.36 945.05L203.36 936.05L212.36 945.05L203.36 954.05Z"/><path d="M197.45 946.79L206.45 937.79L215.45 946.79L206.45 955.79Z"/><path d="M200.54 945.89L209.54 936.89L218.54 945.89L209.54 954.89Z"/><path d="M203.63 946.85L212.63 937.85L221.63 946.85L212.63 955.85Z"/><path d="M206.72 947.74L215.72 938.74L224.72 947.74L215.72 956.74Z"/><path d="M209.81 949.54L218.81 940.54L227.81 949.54L218.81 958.54Z"/><path d="M212.89 949.76L221.89 940.76L230.89 949.76L221.89 958.76Z"/><path d="M215.98 949.93L224.98 940.93L233.98 949.93L224.98 958.93Z"/><path d="M219.07 949.39L228.07 940.39L237.07 949.39L228.07 958.39Z"/><path d="M222.16 949.55L231.16 940.55L240.16 949.55L231.16 958.55Z"/><path d="M225.25 949.46L234.25 940.46L243.25 949.46L234.25 958.46Z"/><path d="M228.34 949.54L237.34 940.54L246.34 949.54L237.34 958.54Z"/><path d="M231.43 949.12L240.43 940.12L249.43 949.12L240.43 958.12Z"/><path d="M234.52 949L243.52 940L252.52 949L243.52 958Z"/><path d="M237.61 950.35L246.61 941.35L255.61 950.35L246.61 959.35Z"/><path d="M240.7 950.1L249.7 941.1L258.7 950.1L249.7 959.1Z"/><path d="M243.79 948.3L252.79 939.3L261.79 948.3L252.79 957.3Z"/><path d="M246.88 947.67L255.88 938.67L264.88 947.67L255.88 956.67Z"/><path d="M249.96 947.73L258.96 938.73L267.96 947.73L258.96 956.73Z"/><path d="M253.05 948.41L262.05 939.41L271.05 948.41L262.05 957.41Z"/><path d="M256.14 948.33L265.14 939.33L274.14 948.33L265.14 957.33Z"/><path d="M259.23 946.57L268.23 937.57L277.23 946.57L268.23 955.57Z"/><path d="M262.32 947.44L271.32 938.44L280.32 947.44L271.32 956.44Z"/><path d="M265.41 946.16L274.41 937.16L283.41 946.16L274.41 955.16Z"/><path d="M268.5 947.13L277.5 938.13L286.5 947.13L277.5 956.13Z"/><path d="M271.59 947.32L280.59 938.32L289.59 947.32L280.59 956.32Z"/><path d="M274.68 947.95L283.68 938.95L292.68 947.95L283.68 956.95Z"/><path d="M277.77 946.42L286.77 937.42L295.77 946.42L286.77 955.42Z"/><path d="M280.86 931.2L289.86 922.2L298.86 931.2L289.86 940.2Z"/><path d="M283.94 929.04L292.94 920.04L301.94 929.04L292.94 938.04Z"/><path d="M287.03 928.75L296.03 919.75L305.03 928.75L296.03 937.75Z"/><path d="M290.12 926.51L299.12 917.51L308.12 926.51L299.12 935.51Z"/><path d="M293.21 927.05L302.21 918.05L311.21 927.05L302.21 936.05Z"/><path d="M296.3 927.64L305.3 918.64L314.3 927.64L305.3 936.64Z"/><path d="M299.39 926.02L308.39 917.02L317.39 926.02L308.39 935.02Z"/><path d="M302.48 926.4L311.48 917.4L320.48 926.4L311.48 935.4Z"/><path d="M305.57 925.13L314.57 916.13L323.57 925.13L314.57 934.13Z"/><path d="M308.66 924.45L317.66 915.45L326.66 924.45L317.66 933.45Z"/><path d="M311.75 922.99L320.75 913.99L329.75 922.99L320.75 931.99Z"/><path d="M314.84 923.1L323.84 914.1L332.84 923.1L323.84 932.1Z"/><path d="M317.93 924.25L326.93 915.25L335.93 924.25L326.93 933.25Z"/><path d="M321.01 924.33L330.01 915.33L339.01 924.33L330.01 933.33Z"/><path d="M324.1 924.37L333.1 915.37L342.1 924.37L333.1 933.37Z"/><path d="M327.19 925.56L336.19 916.56L345.19 925.56L336.19 934.56Z"/><path d="M330.28 925.03L339.28 916.03L348.28 925.03L339.28 934.03Z"/><path d="M333.37 925.9L342.37 916.9L351.37 925.9L342.37 934.9Z"/><path d="M336.46 924.71L345.46 915.71L354.46 924.71L345.46 933.71Z"/><path d="M339.55 924.16L348.55 915.16L357.55 924.16L348.55 933.16Z"/><path d="M342.64 924.15L351.64 915.15L360.64 924.15L351.64 933.15Z"/><path d="M345.73 924.78L354.73 915.78L363.73 924.78L354.73 933.78Z"/><path d="M348.82 932.43L357.82 923.43L366.82 932.43L357.82 941.43Z"/><path d="M351.91 929.51L360.91 920.51L369.91 929.51L360.91 938.51Z"/><path d="M355 926.39L364 917.39L373 926.39L364 935.39Z"/><path d="M358.09 927.56L367.09 918.56L376.09 927.56L367.09 936.56Z"/><path d="M361.17 927.69L370.17 918.69L379.17 927.69L370.17 936.69Z"/><path d="M364.26 930.5L373.26 921.5L382.26 930.5L373.26 939.5Z"/><path d="M367.35 932.48L376.35 923.48L385.35 932.48L376.35 941.48Z"/><path d="M370.44 929.97L379.44 920.97L388.44 929.97L379.44 938.97Z"/><path d="M373.53 929.23L382.53 920.23L391.53 929.23L382.53 938.23Z"/><path d="M376.62 932.21L385.62 923.21L394.62 932.21L385.62 941.21Z"/><path d="M379.71 934.8L388.71 925.8L397.71 934.8L388.71 943.8Z"/><path d="M382.8 938.19L391.8 929.19L400.8 938.19L391.8 947.19Z"/><path d="M385.89 937.3L394.89 928.3L403.89 937.3L394.89 946.3Z"/><path d="M388.98 937.88L397.98 928.88L406.98 937.88L397.98 946.88Z"/><path d="M392.07 937.59L401.07 928.59L410.07 937.59L401.07 946.59Z"/><path d="M395.15 937.77L404.15 928.77L413.15 937.77L404.15 946.77Z"/><path d="M398.24 938.48L407.24 929.48L416.24 938.48L407.24 947.48Z"/><path d="M401.33 938.49L410.33 929.49L419.33 938.49L410.33 947.49Z"/><path d="M404.42 936.91L413.42 927.91L422.42 936.91L413.42 945.91Z"/><path d="M407.51 938.53L416.51 929.53L425.51 938.53L416.51 947.53Z"/><path d="M410.6 937.68L419.6 928.68L428.6 937.68L419.6 946.68Z"/><path d="M413.69 937.35L422.69 928.35L431.69 937.35L422.69 946.35Z"/><path d="M416.78 938.06L425.78 929.06L434.78 938.06L425.78 947.06Z"/><path d="M419.87 938.47L428.87 929.47L437.87 938.47L428.87 947.47Z"/><path d="M422.96 939.52L431.96 930.52L440.96 939.52L431.96 948.52Z"/><path d="M426.05 938.34L435.05 929.34L444.05 938.34L435.05 947.34Z"/><path d="M429.14 937.62L438.14 928.62L447.14 937.62L438.14 946.62Z"/><path d="M432.23 939.32L441.23 930.32L450.23 939.32L441.23 948.32Z"/><path d="M435.31 937.83L444.31 928.83L453.31 937.83L444.31 946.83Z"/><path d="M438.4 940.89L447.4 931.89L456.4 940.89L447.4 949.89Z"/><path d="M441.49 943.96L450.49 934.96L459.49 943.96L450.49 952.96Z"/><path d="M444.58 945.32L453.58 936.32L462.58 945.32L453.58 954.32Z"/><path d="M447.67 946.73L456.67 937.73L465.67 946.73L456.67 955.73Z"/><path d="M450.76 948.98L459.76 939.98L468.76 948.98L459.76 957.98Z"/><path d="M453.85 949.79L462.85 940.79L471.85 949.79L462.85 958.79Z"/><path d="M456.94 953.57L465.94 944.57L474.94 953.57L465.94 962.57Z"/><path d="M460.03 955.92L469.03 946.92L478.03 955.92L469.03 964.92Z"/><path d="M463.12 959.82L472.12 950.82L481.12 959.82L472.12 968.82Z"/><path d="M466.21 962.2L475.21 953.2L484.21 962.2L475.21 971.2Z"/><path d="M469.3 963.25L478.3 954.25L487.3 963.25L478.3 972.25Z"/><path d="M472.38 965.82L481.38 956.82L490.38 965.82L481.38 974.82Z"/><path d="M475.47 968.64L484.47 959.64L493.47 968.64L484.47 977.64Z"/><path d="M478.56 970.18L487.56 961.18L496.56 970.18L487.56 979.18Z"/><path d="M481.65 970.15L490.65 961.15L499.65 970.15L490.65 979.15Z"/><path d="M484.74 942L493.74 933L502.74 942L493.74 951Z"/><path d="M487.83 942.49L496.83 933.49L505.83 942.49L496.83 951.49Z"/><path d="M490.92 943.47L499.92 934.47L508.92 943.47L499.92 952.47Z"/><path d="M494.01 943.5L503.01 934.5L512.01 943.5L503.01 952.5Z"/><path d="M497.1 958.72L506.1 949.72L515.1 958.72L506.1 967.72Z"/><path d="M500.19 959.98L509.19 950.98L518.19 959.98L509.19 968.98Z"/><path d="M503.28 960.19L512.28 951.19L521.28 960.19L512.28 969.19Z"/><path d="M506.37 959.24L515.37 950.24L524.37 959.24L515.37 968.24Z"/><path d="M509.45 959.92L518.45 950.92L527.45 959.92L518.45 968.92Z"/><path d="M512.54 958.02L521.54 949.02L530.54 958.02L521.54 967.02Z"/><path d="M515.63 956.77L524.63 947.77L533.63 956.77L524.63 965.77Z"/><path d="M518.72 956.75L527.72 947.75L536.72 956.75L527.72 965.75Z"/><path d="M521.81 955.51L530.81 946.51L539.81 955.51L530.81 964.51Z"/><path d="M524.9 954.47L533.9 945.47L542.9 954.47L533.9 963.47Z"/><path d="M527.99 952.15L536.99 943.15L545.99 952.15L536.99 961.15Z"/><path d="M531.08 948.51L540.08 939.51L549.08 948.51L540.08 957.51Z"/><path d="M534.17 936.86L543.17 927.86L552.17 936.86L543.17 945.86Z"/><path d="M537.26 936.82L546.26 927.82L555.26 936.82L546.26 945.82Z"/><path d="M540.35 936.81L549.35 927.81L558.35 936.81L549.35 945.81Z"/><path d="M543.43 936.84L552.43 927.84L561.43 936.84L552.43 945.84Z"/><path d="M546.52 936.95L555.52 927.95L564.52 936.95L555.52 945.95Z"/><path d="M549.61 936.58L558.61 927.58L567.61 936.58L558.61 945.58Z"/><path d="M552.7 936.4L561.7 927.4L570.7 936.4L561.7 945.4Z"/><path d="M555.79 936.49L564.79 927.49L573.79 936.49L564.79 945.49Z"/><path d="M558.88 936.47L567.88 927.47L576.88 936.47L567.88 945.47Z"/><path d="M561.97 936.54L570.97 927.54L579.97 936.54L570.97 945.54Z"/><path d="M565.06 936.8L574.06 927.8L583.06 936.8L574.06 945.8Z"/><path d="M568.15 936.34L577.15 927.34L586.15 936.34L577.15 945.34Z"/><path d="M571.24 936.57L580.24 927.57L589.24 936.57L580.24 945.57Z"/><path d="M574.33 936.78L583.33 927.78L592.33 936.78L583.33 945.78Z"/><path d="M577.42 936.44L586.42 927.44L595.42 936.44L586.42 945.44Z"/><path d="M580.5 936.31L589.5 927.31L598.5 936.31L589.5 945.31Z"/><path d="M583.59 936.41L592.59 927.41L601.59 936.41L592.59 945.41Z"/><path d="M586.68 936.31L595.68 927.31L604.68 936.31L595.68 945.31Z"/><path d="M589.77 936.73L598.77 927.73L607.77 936.73L598.77 945.73Z"/><path d="M592.86 936.34L601.86 927.34L610.86 936.34L601.86 945.34Z"/><path d="M595.95 936.35L604.95 927.35L613.95 936.35L604.95 945.35Z"/><path d="M599.04 936.71L608.04 927.71L617.04 936.71L608.04 945.71Z"/><path d="M602.13 936.7L611.13 927.7L620.13 936.7L611.13 945.7Z"/><path d="M605.22 936.56L614.22 927.56L623.22 936.56L614.22 945.56Z"/><path d="M608.31 936.74L617.31 927.74L626.31 936.74L617.31 945.74Z"/><path d="M611.4 936.22L620.4 927.22L629.4 936.22L620.4 945.22Z"/><path d="M614.49 936.76L623.49 927.76L632.49 936.76L623.49 945.76Z"/><path d="M617.58 936.51L626.58 927.51L635.58 936.51L626.58 945.51Z"/><path d="M620.66 936.34L629.66 927.34L638.66 936.34L629.66 945.34Z"/><path d="M623.75 936.65L632.75 927.65L641.75 936.65L632.75 945.65Z"/><path d="M626.84 936.54L635.84 927.54L644.84 936.54L635.84 945.54Z"/><path d="M629.93 936.72L638.93 927.72L647.93 936.72L638.93 945.72Z"/><path d="M633.02 936.19L642.02 927.19L651.02 936.19L642.02 945.19Z"/><path d="M636.11 936.46L645.11 927.46L654.11 936.46L645.11 945.46Z"/><path d="M639.2 936.39L648.2 927.39L657.2 936.39L648.2 945.39Z"/><path d="M642.29 936.49L651.29 927.49L660.29 936.49L651.29 945.49Z"/><path d="M645.38 936.23L654.38 927.23L663.38 936.23L654.38 945.23Z"/><path d="M648.47 936.1L657.47 927.1L666.47 936.1L657.47 945.1Z"/><path d="M651.56 936.4L660.56 927.4L669.56 936.4L660.56 945.4Z"/><path d="M654.64 936.28L663.64 927.28L672.64 936.28L663.64 945.28Z"/><path d="M657.73 936.59L666.73 927.59L675.73 936.59L666.73 945.59Z"/><path d="M660.82 936.32L669.82 927.32L678.82 936.32L669.82 945.32Z"/><path d="M663.91 936.29L672.91 927.29L681.91 936.29L672.91 945.29Z"/><path d="M667 936.41L676 927.41L685 936.41L676 945.41Z"/><path d="M670.09 936.34L679.09 927.34L688.09 936.34L679.09 945.34Z"/><path d="M673.18 936.59L682.18 927.59L691.18 936.59L682.18 945.59Z"/><path d="M676.27 936.48L685.27 927.48L694.27 936.48L685.27 945.48Z"/><path d="M679.36 936.89L688.36 927.89L697.36 936.89L688.36 945.89Z"/><path d="M682.45 937.12L691.45 928.12L700.45 937.12L691.45 946.12Z"/><path d="M685.54 937.36L694.54 928.36L703.54 937.36L694.54 946.36Z"/><path d="M688.63 937.44L697.63 928.44L706.63 937.44L697.63 946.44Z"/><path d="M691.71 937.44L700.71 928.44L709.71 937.44L700.71 946.44Z"/><path d="M694.8 937.57L703.8 928.57L712.8 937.57L703.8 946.57Z"/><path d="M697.89 937.1L706.89 928.1L715.89 937.1L706.89 946.1Z"/><path d="M700.98 937.22L709.98 928.22L718.98 937.22L709.98 946.22Z"/><path d="M704.07 937.22L713.07 928.22L722.07 937.22L713.07 946.22Z"/><path d="M707.16 937.15L716.16 928.15L725.16 937.15L716.16 946.15Z"/><path d="M710.25 937.17L719.25 928.17L728.25 937.17L719.25 946.17Z"/><path d="M713.34 937.24L722.34 928.24L731.34 937.24L722.34 946.24Z"/><path d="M716.43 937.27L725.43 928.27L734.43 937.27L725.43 946.27Z"/><path d="M719.52 937.1L728.52 928.1L737.52 937.1L728.52 946.1Z"/><path d="M722.61 937.02L731.61 928.02L740.61 937.02L731.61 946.02Z"/><path d="M725.7 937.11L734.7 928.11L743.7 937.11L734.7 946.11Z"/><path d="M728.79 937.01L737.79 928.01L746.79 937.01L737.79 946.01Z"/><path d="M731.87 937.11L740.87 928.11L749.87 937.11L740.87 946.11Z"/><path d="M734.96 937.32L743.96 928.32L752.96 937.32L743.96 946.32Z"/><path d="M738.05 937.27L747.05 928.27L756.05 937.27L747.05 946.27Z"/><path d="M741.14 937.5L750.14 928.5L759.14 937.5L750.14 946.5Z"/><path d="M744.23 937.24L753.23 928.24L762.23 937.24L753.23 946.24Z"/><path d="M747.32 937.23L756.32 928.23L765.32 937.23L756.32 946.23Z"/><path d="M750.41 937.28L759.41 928.28L768.41 937.28L759.41 946.28Z"/><path d="M753.5 937.32L762.5 928.32L771.5 937.32L762.5 946.32Z"/><path d="M756.59 937.25L765.59 928.25L774.59 937.25L765.59 946.25Z"/><path d="M759.68 937.23L768.68 928.23L777.68 937.23L768.68 946.23Z"/><path d="M762.77 937.24L771.77 928.24L780.77 937.24L771.77 946.24Z"/><path d="M765.86 937.08L774.86 928.08L783.86 937.08L774.86 946.08Z"/><path d="M768.94 937.33L777.94 928.33L786.94 937.33L777.94 946.33Z"/><path d="M772.03 937.22L781.03 928.22L790.03 937.22L781.03 946.22Z"/><path d="M775.12 937.04L784.12 928.04L793.12 937.04L784.12 946.04Z"/><path d="M778.21 937L787.21 928L796.21 937L787.21 946Z"/><path d="M781.3 936.89L790.3 927.89L799.3 936.89L790.3 945.89Z"/><path d="M784.39 937.05L793.39 928.05L802.39 937.05L793.39 946.05Z"/><path d="M787.48 936.84L796.48 927.84L805.48 936.84L796.48 945.84Z"/><path d="M790.57 936.93L799.57 927.93L808.57 936.93L799.57 945.93Z"/><path d="M793.66 936.86L802.66 927.86L811.66 936.86L802.66 945.86Z"/><path d="M796.75 936.99L805.75 927.99L814.75 936.99L805.75 945.99Z"/><path d="M799.84 937.02L808.84 928.02L817.84 937.02L808.84 946.02Z"/><path d="M802.92 937.17L811.92 928.17L820.92 937.17L811.92 946.17Z"/><path d="M806.01 937.27L815.01 928.27L824.01 937.27L815.01 946.27Z"/><path d="M809.1 937.18L818.1 928.18L827.1 937.18L818.1 946.18Z"/><path d="M812.19 936.89L821.19 927.89L830.19 936.89L821.19 945.89Z"/><path d="M815.28 937.33L824.28 928.33L833.28 937.33L824.28 946.33Z"/><path d="M818.37 937.23L827.37 928.23L836.37 937.23L827.37 946.23Z"/><path d="M821.46 937.08L830.46 928.08L839.46 937.08L830.46 946.08Z"/><path d="M824.55 937.16L833.55 928.16L842.55 937.16L833.55 946.16Z"/><path d="M827.64 937.08L836.64 928.08L845.64 937.08L836.64 946.08Z"/><path d="M830.73 936.87L839.73 927.87L848.73 936.87L839.73 945.87Z"/><path d="M833.82 937.15L842.82 928.15L851.82 937.15L842.82 946.15Z"/><path d="M836.91 937.35L845.91 928.35L854.91 937.35L845.91 946.35Z"/><path d="M840 937.22L849 928.22L858 937.22L849 946.22Z"/><path d="M843.08 936.86L852.08 927.86L861.08 936.86L852.08 945.86Z"/><path d="M846.17 936.82L855.17 927.82L864.17 936.82L855.17 945.82Z"/><path d="M849.26 937.3L858.26 928.3L867.26 937.3L858.26 946.3Z"/><path d="M852.35 937.28L861.35 928.28L870.35 937.28L861.35 946.28Z"/><path d="M855.44 937.18L864.44 928.18L873.44 937.18L864.44 946.18Z"/><path d="M858.53 937.18L867.53 928.18L876.53 937.18L867.53 946.18Z"/><path d="M861.62 936.81L870.62 927.81L879.62 936.81L870.62 945.81Z"/><path d="M864.71 937.2L873.71 928.2L882.71 937.2L873.71 946.2Z"/><path d="M867.8 936.83L876.8 927.83L885.8 936.83L876.8 945.83Z"/><path d="M870.89 936.8L879.89 927.8L888.89 936.8L879.89 945.8Z"/><path d="M873.98 936.94L882.98 927.94L891.98 936.94L882.98 945.94Z"/></g>
<polyline fill="none" stroke="#1f75fe" stroke-width="2" points="163.2,1131.5 166.29,1126.02 169.38,1136.69 172.47,1137.07 175.56,1136.19 178.65,1136.06 181.73,1135.89 184.82,1134.93 187.91,1134.55 191,1133.69 194.09,1133.58 197.18,1133.52 200.27,1133.4 203.36,1133.15 206.45,1132.18 209.54,1131.35 212.63,1131.16 215.72,1131.53 218.81,1131.03 221.89,1131.66 224.98,1132.41 228.07,1130.73 231.16,1130.84 234.25,1130.67 237.34,1129.22 240.43,1128.99 243.52,1128.54 246.61,1126.72 249.7,1126.3 252.79,1125.68 255.88,1124.7 258.96,1123.68 262.05,1122.97 265.14,1122.91 268.23,1122.38 271.32,1122.11 274.41,1121.58 277.5,1121.8 280.59,1121.44 283.68,1120.62 286.77,1120.66 289.86,1120.03 292.94,1119.97 296.03,1119.6 299.12,1119.72 302.21,1119.14 305.3,1119 308.39,1119.08 311.48,1118.47 314.57,1118.84 317.66,1117.77 320.75,1118.24 323.84,1117.65 326.93,1117.45 330.01,1117.49 333.1,1117.21 336.19,1116.94 339.28,1116.31 342.37,1116.28 345.46,1116.89 348.55,1116.51 351.64,1115.6 354.73,1114.85 357.82,1127.55 360.91,1123.2 364,1120.79 367.09,1118.79 370.17,1116.88 373.26,1122.06 376.35,1123.96 379.44,1121.73 382.53,1119.41 385.62,1119.07 388.71,1117.06 391.8,1117.42 394.89,1117.73 397.98,1118.28 401.07,1117.77 404.15,1117.07 407.24,1117.49 410.33,1118.07 413.42,1119.06 416.51,1123.56 419.6,1129.81 422.69,1128.3 425.78,1125.91 428.87,1122.91 431.96,1119.99 435.05,1117.77 438.14,1116.54 441.23,1115.21 444.31,1113.24 447.4,1113.86 450.49,1117.93 453.58,1115.82 456.67,1116.17 459.76,1115.05 462.85,1123.52 465.94,1123.16 469.03,1121.85 472.12,1119.56 475.21,1120.15 478.3,1118.58 481.38,1118.77 484.47,1119.23 487.56,1118.01 490.65,1121.53 493.74,1129.57 496.83,1125.86 499.92,1123.38 503.01,1124.88 506.1,1135.17 509.19,1134.51 512.28,1132.95 515.37,1133.1 518.45,1132.05 521.54,1131.31 524.63,1130.32 527.72,1127.16 530.81,1125.84 533.9,1125.15 536.99,1122.02 540.08,1120.13 543.17,1090.47 546.26,1089.01 549.35,1091.22 552.43,1091.49 555.52,1088.52 558.61,1090.32 561.7,1091.28 564.79,1091.96 567.88,1089.48 570.97,1089.14 574.06,1091.72 577.15,1091.93 580.24,1090.03 583.33,1091.58 586.42,1093.25 589.5,1094.38 592.59,1092.3 595.68,1094.07 598.77,1094.57 601.86,1093.63 604.95,1092.23 608.04,1091.75 611.13,1092.62 614.22,1094.35 617.31,1091.43 620.4,1091.11 623.49,1092.2 626.58,1090.95 629.66,1091.08 632.75,1090.55 635.84,1092.63 638.93,1093.52 642.02,1092.82 645.11,1092.04 648.2,1093.02 651.29,1094.23 654.38,1095.97 657.47,1096.76 660.56,1094.65 663.64,1093.87 666.73,1095.6 669.82,1094.73 672.91,1091.82 676,1091.73 679.09,1092.47 682.18,1092.6 685.27,1094.6 688.36,1092.6 691.45,1094.55 694.54,1095.07 697.63,1094.18 700.71,1096.7 703.8,1093.21 706.89,1095.2 709.98,1092.92 713.07,1093.92 716.16,1094.08 719.25,1093.18 722.34,1094.36 725.43,1094.36 728.52,1093.6 731.61,1095.42 734.7,1093.64 737.79,1094.06 740.87,1094.94 743.96,1095.33 747.05,1095.01 750.14,1097.73 753.23,1097.09 756.32,1094.18 759.41,1094.81 762.5,1094 765.59,1094.47 768.68,1093.52 771.77,1094.02 774.86,1095.24 777.94,1092.99 781.03,1093.65 784.12,1093.15 787.21,1093.41 790.3,1090.63 793.39,1093.08 796.48,1094.41 799.57,1093.78 802.66,1093.25 805.75,1095.25 808.84,1096 811.92,1096.41 815.01,1095.24 818.1,1098.87 821.19,1099.46 824.28,1098.21 827.37,1099.05 830.46,1095.72 833.55,1097.81 836.64,1095.87 839.73,1093.88 842.82,1093.44 845.91,1091.38 849,1091.81 852.08,1091.59 855.17,1092.85 858.26,1091.03 861.35,1093.92 864.44,1092.33 867.53,1092.17 870.62,1090.86 873.71,1092.85 876.8,1093.23 879.89,1092.47 882.98,1090.98"/>
<g fill="#1f75fe" stroke="#04215f" stroke-width="1.9"><circle cx="163.2" cy="1131.5" r="7.5"/><circle cx="166.29" cy="1126.02" r="7.5"/><circle cx="169.38" cy="1136.69" r="7.5"/><circle cx="172.47" cy="1137.07" r="7.5"/><circle cx="175.56" cy="1136.19" r="7.5"/><circle cx="178.65" cy="1136.06" r="7.5"/><circle cx="181.73" cy="1135.89" r="7.5"/><circle cx="184.82" cy="1134.93" r="7.5"/><circle cx="187.91" cy="1134.55" r="7.5"/><circle cx="191" cy="1133.69" r="7.5"/><circle cx="194.09" cy="1133.58" r="7.5"/><circle cx="197.18" cy="1133.52" r="7.5"/><circle cx="200.27" cy="1133.4" r="7.5"/><circle cx="203.36" cy="1133.15" r="7.5"/><circle cx="206.45" cy="1132.18" r="7.5"/><circle cx="209.54" cy="1131.35" r="7.5"/><circle cx="212.63" cy="1131.16" r="7.5"/><circle cx="215.72" cy="1131.53" r="7.5"/><circle cx="218.81" cy="1131.03" r="7.5"/><circle cx="221.89" cy="1131.66" r="7.5"/><circle cx="224.98" cy="1132.41" r="7.5"/><circle cx="228.07" cy="1130.73" r="7.5"/><circle cx="231.16" cy="1130.84" r="7.5"/><circle cx="234.25" cy="1130.67" r="7.5"/><circle cx="237.34" cy="1129.22" r="7.5"/><circle cx="240.43" cy="1128.99" r="7.5"/><circle cx="243.52" cy="1128.54" r="7.5"/><circle cx="246.61" cy="1126.72" r="7.5"/><circle cx="249.7" cy="1126.3" r="7.5"/><circle cx="252.79" cy="1125.68" r="7.5"/><circle cx="255.88" cy="1124.7" r="7.5"/><circle cx="258.96" cy="1123.68" r="7.5"/><circle cx="262.05" cy="1122.97" r="7.5"/><circle cx="265.14" cy="1122.91" r="7.5"/><circle cx="268.23" cy="1122.38" r="7.5"/><circle cx="271.32" cy="1122.11" r="7.5"/><circle cx="274.41" cy="1121.58" r="7.5"/><circle cx="277.5" cy="1121.8" r="7.5"/><circle cx="280.59" cy="1121.44" r="7.5"/><circle cx="283.68" cy="1120.62" r="7.5"/><circle cx="286.77" cy="1120.66" r="7.5"/><circle cx="289.86" cy="1120.03" r="7.5"/><circle cx="292.94" cy="1119.97" r="7.5"/><circle cx="296.03" cy="1119.6" r="7.5"/><circle cx="299.12" cy="1119.72" r="7.5"/><circle cx="302.21" cy="1119.14" r="7.5"/><circle cx="305.3" cy="1119" r="7.5"/><circle cx="308.39" cy="1119.08" r="7.5"/><circle cx="311.48" cy="1118.47" r="7.5"/><circle cx="314.57" cy="1118.84" r="7.5"/><circle cx="317.66" cy="1117.77" r="7.5"/><circle cx="320.75" cy="1118.24" r="7.5"/><circle cx="323.84" cy="1117.65" r="7.5"/><circle cx="326.93" cy="1117.45" r="7.5"/><circle cx="330.01" cy="1117.49" r="7.5"/><circle cx="333.1" cy="1117.21" r="7.5"/><circle cx="336.19" cy="1116.94" r="7.5"/><circle cx="339.28" cy="1116.31" r="7.5"/><circle cx="342.37" cy="1116.28" r="7.5"/><circle cx="345.46" cy="1116.89" r="7.5"/><circle cx="348.55" cy="1116.51" r="7.5"/><circle cx="351.64" cy="1115.6" r="7.5"/><circle cx="354.73" cy="1114.85" r="7.5"/><circle cx="357.82" cy="1127.55" r="7.5"/><circle cx="360.91" cy="1123.2" r="7.5"/><circle cx="364" cy="1120.79" r="7.5"/><circle cx="367.09" cy="1118.79" r="7.5"/><circle cx="370.17" cy="1116.88" r="7.5"/><circle cx="373.26" cy="1122.06" r="7.5"/><circle cx="376.35" cy="1123.96" r="7.5"/><circle cx="379.44" cy="1121.73" r="7.5"/><circle cx="382.53" cy="1119.41" r="7.5"/><circle cx="385.62" cy="1119.07" r="7.5"/><circle cx="388.71" cy="1117.06" r="7.5"/><circle cx="391.8" cy="1117.42" r="7.5"/><circle cx="394.89" cy="1117.73" r="7.5"/><circle cx="397.98" cy="1118.28" r="7.5"/><circle cx="401.07" cy="1117.77" r="7.5"/><circle cx="404.15" cy="1117.07" r="7.5"/><circle cx="407.24" cy="1117.49" r="7.5"/><circle cx="410.33" cy="1118.07" r="7.5"/><circle cx="413.42" cy="1119.06" r="7.5"/><circle cx="416.51" cy="1123.56" r="7.5"/><circle cx="419.6" cy="1129.81" r="7.5"/><circle cx="422.69" cy="1128.3" r="7.5"/><circle cx="425.78" cy="1125.91" r="7.5"/><circle cx="428.87" cy="1122.91" r="7.5"/><circle cx="431.96" cy="1119.99" r="7.5"/><circle cx="435.05" cy="1117.77" r="7.5"/><circle cx="438.14" cy="1116.54" r="7.5"/><circle cx="441.23" cy="1115.21" r="7.5"/><circle cx="444.31" cy="1113.24" r="7.5"/><circle cx="447.4" cy="1113.86" r="7.5"/><circle cx="450.49" cy="1117.93" r="7.5"/><circle cx="453.58" cy="1115.82" r="7.5"/><circle cx="456.67" cy="1116.17" r="7.5"/><circle cx="459.76" cy="1115.05" r="7.5"/><circle cx="462.85" cy="1123.52" r="7.5"/><circle cx="465.94" cy="1123.16" r="7.5"/><circle cx="469.03" cy="1121.85" r="7.5"/><circle cx="472.12" cy="1119.56" r="7.5"/><circle cx="475.21" cy="1120.15" r="7.5"/><circle cx="478.3" cy="1118.58" r="7.5"/><circle cx="481.38" cy="1118.77" r="7.5"/><circle cx="484.47" cy="1119.23" r="7.5"/><circle cx="487.56" cy="1118.01" r="7.5"/><circle cx="490.65" cy="1121.53" r="7.5"/><circle cx="493.74" cy="1129.57" r="7.5"/><circle cx="496.83" cy="1125.86" r="7.5"/><circle cx="499.92" cy="1123.38" r="7.5"/><circle cx="503.01" cy="1124.88" r="7.5"/><circle cx="506.1" cy="1135.17" r="7.5"/><circle cx="509.19" cy="1134.51" r="7.5"/><circle cx="512.28" cy="1132.95" r="7.5"/><circle cx="515.37" cy="1133.1" r="7.5"/><circle cx="518.45" cy="1132.05" r="7.5"/><circle cx="521.54" cy="1131.31" r="7.5"/><circle cx="524.63" cy="1130.32" r="7.5"/><circle cx="527.72" cy="1127.16" r="7.5"/><circle cx="530.81" cy="1125.84" r="7.5"/><circle cx="533.9" cy="1125.15" r="7.5"/><circle cx="536.99" cy="1122.02" r="7.5"/><circle cx="540.08" cy="1120.13" r="7.5"/><circle cx="543.17" cy="1090.47" r="7.5"/><circle cx="546.26" cy="1089.01" r="7.5"/><circle cx="549.35" cy="1091.22" r="7.5"/><circle cx="552.43" cy="1091.49" r="7.5"/><circle cx="555.52" cy="1088.52" r="7.5"/><circle cx="558.61" cy="1090.32" r="7.5"/><circle cx="561.7" cy="1091.28" r="7.5"/><circle cx="564.79" cy="1091.96" r="7.5"/><circle cx="567.88" cy="1089.48" r="7.5"/><circle cx="570.97" cy="1089.14" r="7.5"/><circle cx="574.06" cy="1091.72" r="7.5"/><circle cx="577.15" cy="1091.93" r="7.5"/><circle cx="580.24" cy="1090.03" r="7.5"/><circle cx="583.33" cy="1091.58" r="7.5"/><circle cx="586.42" cy="1093.25" r="7.5"/><circle cx="589.5" cy="1094.38" r="7.5"/><circle cx="592.59" cy="1092.3" r="7.5"/><circle cx="595.68" cy="1094.07" r="7.5"/><circle cx="598.77" cy="1094.57" r="7.5"/><circle cx="601.86" cy="1093.63" r="7.5"/><circle cx="604.95" cy="1092.23" r="7.5"/><circle cx="608.04" cy="1091.75" r="7.5"/><circle cx="611.13" cy="1092.62" r="7.5"/><circle cx="614.22" cy="1094.35" r="7.5"/><circle cx="617.31" cy="1091.43" r="7.5"/><circle cx="620.4" cy="1091.11" r="7.5"/><circle cx="623.49" cy="1092.2" r="7.5"/><circle cx="626.58" cy="1090.95" r="7.5"/><circle cx="629.66" cy="1091.08" r="7.5"/><circle cx="632.75" cy="1090.55" r="7.5"/><circle cx="635.84" cy="1092.63" r="7.5"/><circle cx="638.93" cy="1093.52" r="7.5"/><circle cx="642.02" cy="1092.82" r="7.5"/><circle cx="645.11" cy="1092.04" r="7.5"/><circle cx="648.2" cy="1093.02" r="7.5"/><circle cx="651.29" cy="1094.23" r="7.5"/><circle cx="654.38" cy="1095.97" r="7.5"/><circle cx="657.47" cy="1096.76" r="7.5"/><circle cx="660.56" cy="1094.65" r="7.5"/><circle cx="663.64" cy="1093.87" r="7.5"/><circle cx="666.73" cy="1095.6" r="7.5"/><circle cx="669.82" cy="1094.73" r="7.5"/><circle cx="672.91" cy="1091.82" r="7.5"/><circle cx="676" cy="1091.73" r="7.5"/><circle cx="679.09" cy="1092.47" r="7.5"/><circle cx="682.18" cy="1092.6" r="7.5"/><circle cx="685.27" cy="1094.6" r="7.5"/><circle cx="688.36" cy="1092.6" r="7.5"/><circle cx="691.45" cy="1094.55" r="7.5"/><circle cx="694.54" cy="1095.07" r="7.5"/><circle cx="697.63" cy="1094.18" r="7.5"/><circle cx="700.71" cy="1096.7" r="7.5"/><circle cx="703.8" cy="1093.21" r="7.5"/><circle cx="706.89" cy="1095.2" r="7.5"/><circle cx="709.98" cy="1092.92" r="7.5"/><circle cx="713.07" cy="1093.92" r="7.5"/><circle cx="716.16" cy="1094.08" r="7.5"/><circle cx="719.25" cy="1093.18" r="7.5"/><circle cx="722.34" cy="1094.36" r="7.5"/><circle cx="725.43" cy="1094.36" r="7.5"/><circle cx="728.52" cy="1093.6" r="7.5"/><circle cx="731.61" cy="1095.42" r="7.5"/><circle cx="734.7" cy="1093.64" r="7.5"/><circle cx="737.79" cy="1094.06" r="7.5"/><circle cx="740.87" cy="1094.94" r="7.5"/><circle cx="743.96" cy="1095.33" r="7.5"/><circle cx="747.05" cy="1095.01" r="7.5"/><circle cx="750.14" cy="1097.73" r="7.5"/><circle cx="753.23" cy="1097.09" r="7.5"/><circle cx="756.32" cy="1094.18" r="7.5"/><circle cx="759.41" cy="1094.81" r="7.5"/><circle cx="762.5" cy="1094" r="7.5"/><circle cx="765.59" cy="1094.47" r="7.5"/><circle cx="768.68" cy="1093.52" r="7.5"/><circle cx="771.77" cy="1094.02" r="7.5"/><circle cx="774.86" cy="1095.24" r="7.5"/><circle cx="777.94" cy="1092.99" r="7.5"/><circle cx="781.03" cy="1093.65" r="7.5"/><circle cx="784.12" cy="1093.15" r="7.5"/><circle cx="787.21" cy="1093.41" r="7.5"/><circle cx="790.3" cy="1090.63" r="7.5"/><circle cx="793.39" cy="1093.08" r="7.5"/><circle cx="796.48" cy="1094.41" r="7.5"/><circle cx="799.57" cy="1093.78" r="7.5"/><circle cx="802.66" cy="1093.25" r="7.5"/><circle cx="805.75" cy="1095.25" r="7.5"/><circle cx="808.84" cy="1096" r="7.5"/><circle cx="811.92" cy="1096.41" r="7.5"/><circle cx="815.01" cy="1095.24" r="7.5"/><circle cx="818.1" cy="1098.87" r="7.5"/><circle cx="821.19" cy="1099.46" r="7.5"/><circle cx="824.28" cy="1098.21" r="7.5"/><circle cx="827.37" cy="1099.05" r="7.5"/><circle cx="830.46" cy="1095.72" r="7.5"/><circle cx="833.55" cy="1097.81" r="7.5"/><circle cx="836.64" cy="1095.87" r="7.5"/><circle cx="839.73" cy="1093.88" r="7.5"/><circle cx="842.82" cy="1093.44" r="7.5"/><circle cx="845.91" cy="1091.38" r="7.5"/><circle cx="849" cy="1091.81" r="7.5"/><circle cx="852.08" cy="1091.59" r="7.5"/><circle cx="855.17" cy="1092.85" r="7.5"/><circle cx="858.26" cy="1091.03" r="7.5"/><circle cx="861.35" cy="1093.92" r="7.5"/><circle cx="864.44" cy="1092.33" r="7.5"/><circle cx="867.53" cy="1092.17" r="7.5"/><circle cx="870.62" cy="1090.86" r="7.5"/><circle cx="873.71" cy="1092.85" r="7.5"/><circle cx="876.8" cy="1093.23" r="7.5"/><circle cx="879.89" cy="1092.47" r="7.5"/><circle cx="882.98" cy="1090.98" r="7.5"/></g>
<text transform="translate(181,868.5) scale(1,1.045)" font-family="Liberation Sans, sans-serif" font-size="35" font-weight="bold">(C)</text>
<line x1="717.8" y1="851.1" x2="759.2" y2="851.1" stroke="#1f75fe" stroke-width="3.4" stroke-linecap="round"/>
<circle cx="738.5" cy="851.1" r="7.3" fill="#1f75fe" stroke="#04215f" stroke-width="2"/>
<line x1="717" y1="886.8" x2="760" y2="886.8" stroke="#ff5a5a" stroke-width="1.4"/>
<path d="M729.8 886.8L738.5 878.1L747.2 886.8L738.5 895.5Z" fill="#c00000" stroke="#c00000" stroke-width="0.6" stroke-linejoin="round"/>
<text x="764" y="861" font-family="Liberation Sans, sans-serif" font-size="30.7">Anode</text>
<text x="764" y="896.8" font-family="Liberation Sans, sans-serif" font-size="30.7">Cathode</text>
<text transform="translate(44,194) rotate(-90) scale(1,1.045)" text-anchor="middle" font-family="Liberation Sans, sans-serif" font-size="35" font-weight="bold">MFC current (mA)</text>
<text transform="translate(30.3,572.5) rotate(-90) scale(1,1.05)" text-anchor="middle" font-family="Liberation Sans, sans-serif" font-size="35" font-weight="bold">MFC output voltage</text>
<text transform="translate(70.2,572.5) rotate(-90) scale(1,1.05)" text-anchor="middle" font-family="Liberation Sans, sans-serif" font-size="35" font-weight="bold">(V)</text>
<text transform="translate(42.5,1026.5) rotate(-90) scale(1,1.06)" text-anchor="middle" font-family="Liberation Sans, sans-serif" font-size="35" font-weight="bold">Potential (V) Vs SHE</text>
<text x="536.3" y="1289.8" text-anchor="middle" font-family="Liberation Sans, sans-serif" font-size="35" font-weight="bold">Time (hours)</text>
</svg></body></html>
